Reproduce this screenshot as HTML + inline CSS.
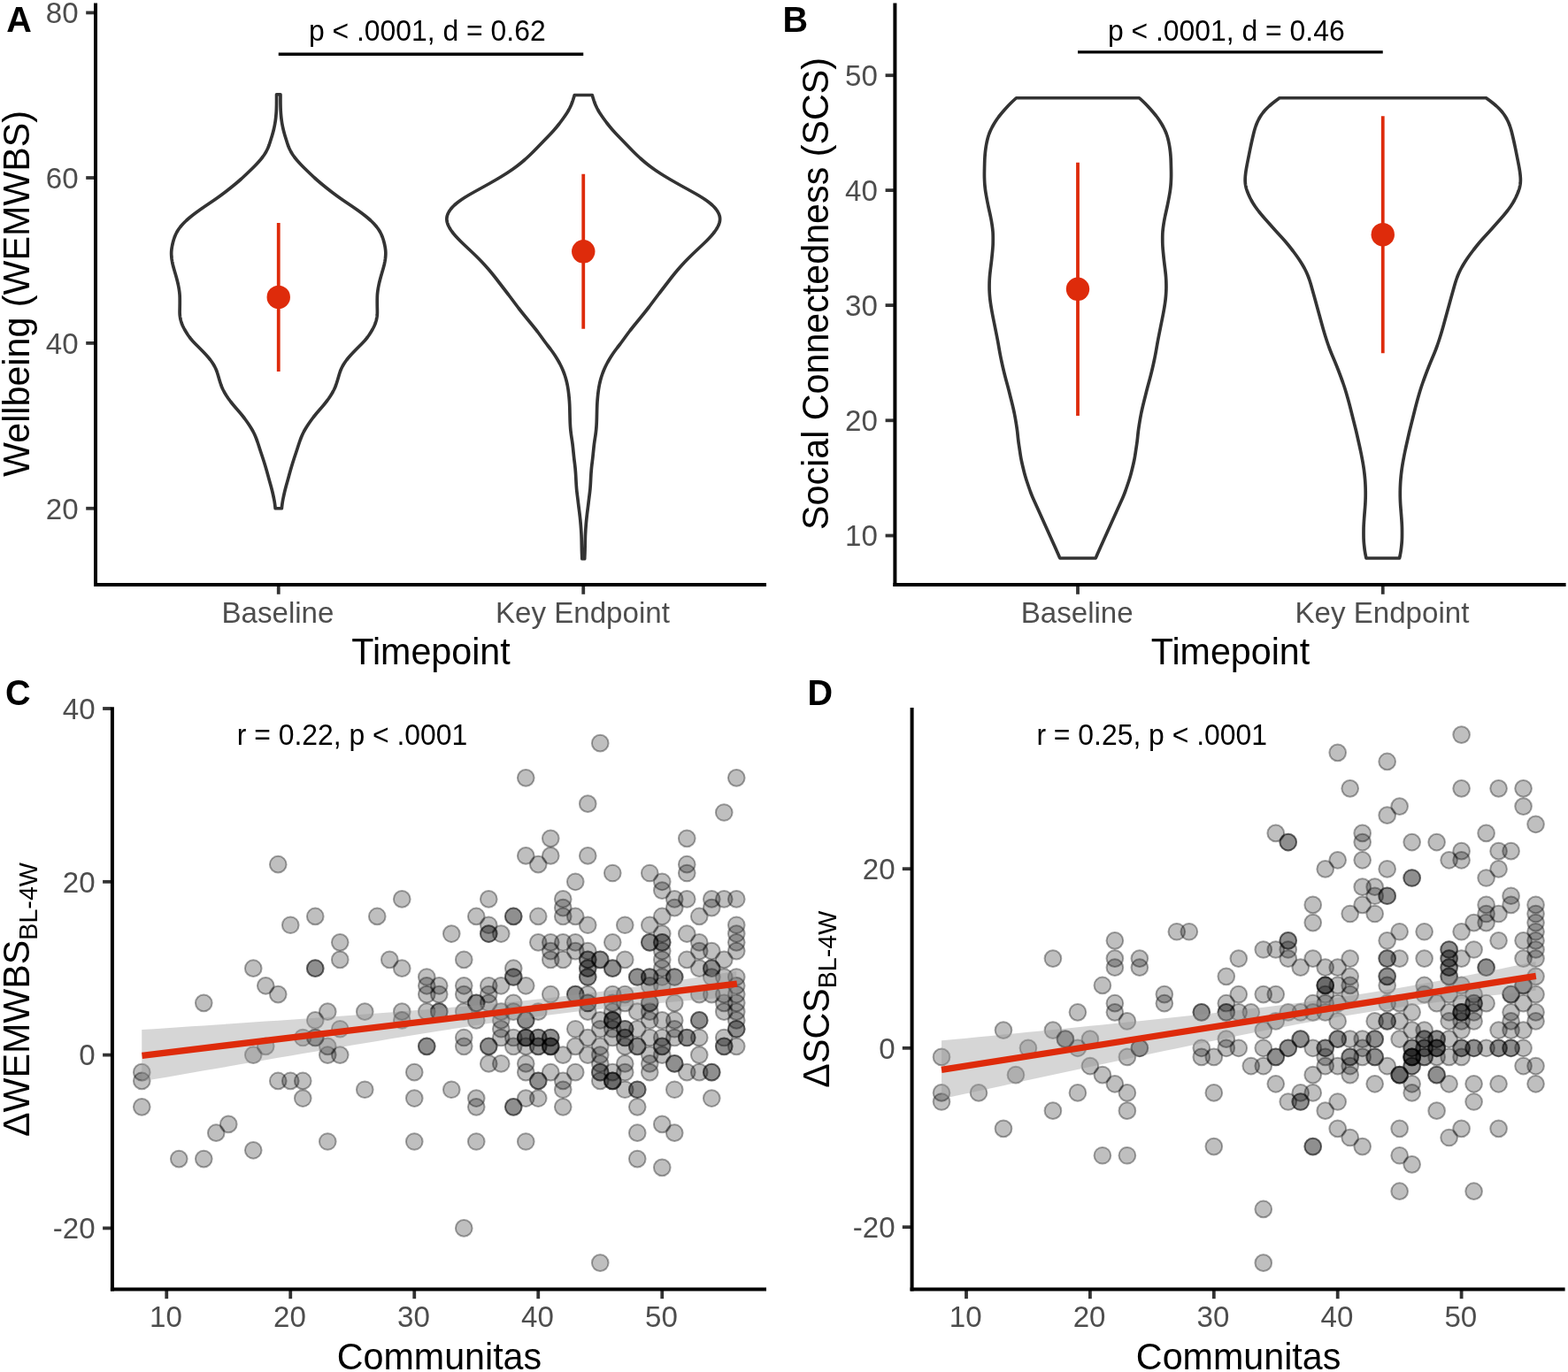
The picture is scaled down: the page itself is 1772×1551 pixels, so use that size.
<!DOCTYPE html>
<html lang="en">
<head>
<meta charset="utf-8">
<title>Figure</title>
<style>html,body{margin:0;padding:0;background:#fff;}svg{display:block;}text{font-family:"Liberation Sans",Arial,Helvetica,sans-serif;}</style>
</head>
<body>
<svg width="1772" height="1551" viewBox="0 0 1772 1551" font-family='"Liberation Sans", Arial, Helvetica, sans-serif' role="img" aria-label="Four-panel figure: wellbeing and social connectedness violin plots, and scatter plots against Communitas">
<rect x="0" y="0" width="1772" height="1551" fill="#ffffff"/>
<g id="panelA">
<path d="M312.55,106.75 L312.55,108.25 L312.55,109.75 L312.55,111.25 L312.56,112.75 L312.55,114.25 L312.54,115.75 L312.53,117.25 L312.50,118.75 L312.47,120.25 L312.43,121.75 L312.38,123.25 L312.32,124.75 L312.24,126.25 L312.14,127.75 L312.02,129.25 L311.89,130.75 L311.75,132.25 L311.59,133.75 L311.40,135.25 L311.20,136.75 L310.97,138.25 L310.72,139.75 L310.44,141.25 L310.15,142.75 L309.84,144.25 L309.50,145.75 L309.14,147.25 L308.76,148.75 L308.36,150.25 L307.94,151.75 L307.51,153.25 L307.05,154.75 L306.58,156.25 L306.11,157.75 L305.64,159.25 L305.17,160.75 L304.68,162.25 L304.17,163.75 L303.61,165.25 L303.01,166.75 L302.35,168.25 L301.63,169.75 L300.85,171.25 L300.00,172.75 L299.07,174.25 L298.07,175.75 L296.98,177.25 L295.83,178.75 L294.62,180.25 L293.35,181.75 L292.03,183.25 L290.67,184.75 L289.25,186.25 L287.80,187.75 L286.31,189.25 L284.78,190.75 L283.24,192.25 L281.69,193.75 L280.12,195.25 L278.55,196.75 L276.97,198.25 L275.37,199.75 L273.75,201.25 L272.08,202.75 L270.38,204.25 L268.64,205.75 L266.85,207.25 L265.04,208.75 L263.20,210.25 L261.35,211.75 L259.47,213.25 L257.57,214.75 L255.65,216.25 L253.69,217.75 L251.70,219.25 L249.67,220.75 L247.61,222.25 L245.51,223.75 L243.37,225.25 L241.20,226.75 L238.99,228.25 L236.76,229.75 L234.54,231.25 L232.32,232.75 L230.13,234.25 L227.97,235.75 L225.83,237.25 L223.74,238.75 L221.68,240.25 L219.68,241.75 L217.73,243.25 L215.85,244.75 L214.03,246.25 L212.29,247.75 L210.62,249.25 L209.05,250.75 L207.56,252.25 L206.16,253.75 L204.85,255.25 L203.63,256.75 L202.49,258.25 L201.46,259.75 L200.52,261.25 L199.67,262.75 L198.91,264.25 L198.22,265.75 L197.60,267.25 L197.04,268.75 L196.53,270.25 L196.07,271.75 L195.65,273.25 L195.27,274.75 L194.93,276.25 L194.61,277.75 L194.33,279.25 L194.09,280.75 L193.89,282.25 L193.75,283.75 L193.67,285.25 L193.66,286.75 L193.70,288.25 L193.79,289.75 L193.93,291.25 L194.10,292.75 L194.32,294.25 L194.57,295.75 L194.86,297.25 L195.19,298.75 L195.56,300.25 L195.95,301.75 L196.36,303.25 L196.78,304.75 L197.22,306.25 L197.65,307.75 L198.09,309.25 L198.53,310.75 L198.96,312.25 L199.37,313.75 L199.78,315.25 L200.17,316.75 L200.55,318.25 L200.91,319.75 L201.25,321.25 L201.56,322.75 L201.85,324.25 L202.12,325.75 L202.36,327.25 L202.59,328.75 L202.78,330.25 L202.94,331.75 L203.07,333.25 L203.15,334.75 L203.20,336.25 L203.23,337.75 L203.24,339.25 L203.25,340.75 L203.24,342.25 L203.24,343.75 L203.22,345.25 L203.20,346.75 L203.17,348.25 L203.14,349.75 L203.11,351.25 L203.10,352.75 L203.13,354.25 L203.21,355.75 L203.36,357.25 L203.57,358.75 L203.85,360.25 L204.20,361.75 L204.61,363.25 L205.08,364.75 L205.62,366.25 L206.23,367.75 L206.92,369.25 L207.67,370.75 L208.47,372.25 L209.33,373.75 L210.22,375.25 L211.15,376.75 L212.12,378.25 L213.14,379.75 L214.23,381.25 L215.39,382.75 L216.63,384.25 L217.95,385.75 L219.35,387.25 L220.80,388.75 L222.29,390.25 L223.80,391.75 L225.30,393.25 L226.79,394.75 L228.26,396.25 L229.71,397.75 L231.13,399.25 L232.52,400.75 L233.88,402.25 L235.19,403.75 L236.45,405.25 L237.64,406.75 L238.75,408.25 L239.80,409.75 L240.78,411.25 L241.69,412.75 L242.53,414.25 L243.30,415.75 L243.99,417.25 L244.61,418.75 L245.16,420.25 L245.66,421.75 L246.13,423.25 L246.57,424.75 L247.01,426.25 L247.45,427.75 L247.89,429.25 L248.35,430.75 L248.82,432.25 L249.31,433.75 L249.83,435.25 L250.40,436.75 L251.01,438.25 L251.68,439.75 L252.42,441.25 L253.21,442.75 L254.05,444.25 L254.94,445.75 L255.87,447.25 L256.86,448.75 L257.88,450.25 L258.95,451.75 L260.07,453.25 L261.22,454.75 L262.41,456.25 L263.63,457.75 L264.89,459.25 L266.17,460.75 L267.47,462.25 L268.78,463.75 L270.08,465.25 L271.36,466.75 L272.61,468.25 L273.82,469.75 L275.00,471.25 L276.15,472.75 L277.27,474.25 L278.36,475.75 L279.42,477.25 L280.46,478.75 L281.46,480.25 L282.44,481.75 L283.39,483.25 L284.30,484.75 L285.17,486.25 L286.00,487.75 L286.77,489.25 L287.50,490.75 L288.17,492.25 L288.81,493.75 L289.41,495.25 L289.97,496.75 L290.52,498.25 L291.04,499.75 L291.55,501.25 L292.05,502.75 L292.53,504.25 L293.02,505.75 L293.50,507.25 L293.99,508.75 L294.48,510.25 L294.98,511.75 L295.48,513.25 L295.98,514.75 L296.48,516.25 L296.97,517.75 L297.46,519.25 L297.94,520.75 L298.42,522.25 L298.89,523.75 L299.35,525.25 L299.81,526.75 L300.25,528.25 L300.69,529.75 L301.12,531.25 L301.55,532.75 L301.97,534.25 L302.38,535.75 L302.79,537.25 L303.20,538.75 L303.60,540.25 L304.02,541.75 L304.43,543.25 L304.85,544.75 L305.28,546.25 L305.70,547.75 L306.12,549.25 L306.52,550.75 L306.92,552.25 L307.30,553.75 L307.67,555.25 L308.03,556.75 L308.37,558.25 L308.71,559.75 L309.03,561.25 L309.35,562.75 L309.65,564.25 L309.93,565.75 L310.19,567.25 L310.43,568.75 L310.64,570.25 L310.83,571.75 L310.99,573.25 L311.15,574.75 L318.35,574.75 L318.51,573.25 L318.67,571.75 L318.86,570.25 L319.07,568.75 L319.31,567.25 L319.57,565.75 L319.85,564.25 L320.15,562.75 L320.47,561.25 L320.79,559.75 L321.13,558.25 L321.47,556.75 L321.83,555.25 L322.20,553.75 L322.58,552.25 L322.98,550.75 L323.38,549.25 L323.80,547.75 L324.22,546.25 L324.65,544.75 L325.07,543.25 L325.48,541.75 L325.90,540.25 L326.30,538.75 L326.71,537.25 L327.12,535.75 L327.53,534.25 L327.95,532.75 L328.38,531.25 L328.81,529.75 L329.25,528.25 L329.69,526.75 L330.15,525.25 L330.61,523.75 L331.08,522.25 L331.56,520.75 L332.04,519.25 L332.53,517.75 L333.02,516.25 L333.52,514.75 L334.02,513.25 L334.52,511.75 L335.02,510.25 L335.51,508.75 L336.00,507.25 L336.48,505.75 L336.97,504.25 L337.45,502.75 L337.95,501.25 L338.46,499.75 L338.98,498.25 L339.53,496.75 L340.09,495.25 L340.69,493.75 L341.33,492.25 L342.00,490.75 L342.73,489.25 L343.50,487.75 L344.33,486.25 L345.20,484.75 L346.11,483.25 L347.06,481.75 L348.04,480.25 L349.04,478.75 L350.08,477.25 L351.14,475.75 L352.23,474.25 L353.35,472.75 L354.50,471.25 L355.68,469.75 L356.89,468.25 L358.14,466.75 L359.42,465.25 L360.72,463.75 L362.03,462.25 L363.33,460.75 L364.61,459.25 L365.87,457.75 L367.09,456.25 L368.28,454.75 L369.43,453.25 L370.55,451.75 L371.62,450.25 L372.64,448.75 L373.63,447.25 L374.56,445.75 L375.45,444.25 L376.29,442.75 L377.08,441.25 L377.82,439.75 L378.49,438.25 L379.10,436.75 L379.67,435.25 L380.19,433.75 L380.68,432.25 L381.15,430.75 L381.61,429.25 L382.05,427.75 L382.49,426.25 L382.93,424.75 L383.37,423.25 L383.84,421.75 L384.34,420.25 L384.89,418.75 L385.51,417.25 L386.20,415.75 L386.97,414.25 L387.81,412.75 L388.72,411.25 L389.70,409.75 L390.75,408.25 L391.86,406.75 L393.05,405.25 L394.31,403.75 L395.62,402.25 L396.98,400.75 L398.37,399.25 L399.79,397.75 L401.24,396.25 L402.71,394.75 L404.20,393.25 L405.70,391.75 L407.21,390.25 L408.70,388.75 L410.15,387.25 L411.55,385.75 L412.87,384.25 L414.11,382.75 L415.27,381.25 L416.36,379.75 L417.38,378.25 L418.35,376.75 L419.28,375.25 L420.17,373.75 L421.03,372.25 L421.83,370.75 L422.58,369.25 L423.27,367.75 L423.88,366.25 L424.42,364.75 L424.89,363.25 L425.30,361.75 L425.65,360.25 L425.93,358.75 L426.14,357.25 L426.29,355.75 L426.37,354.25 L426.40,352.75 L426.39,351.25 L426.36,349.75 L426.33,348.25 L426.30,346.75 L426.28,345.25 L426.26,343.75 L426.26,342.25 L426.25,340.75 L426.26,339.25 L426.27,337.75 L426.30,336.25 L426.35,334.75 L426.43,333.25 L426.56,331.75 L426.72,330.25 L426.91,328.75 L427.14,327.25 L427.38,325.75 L427.65,324.25 L427.94,322.75 L428.25,321.25 L428.59,319.75 L428.95,318.25 L429.33,316.75 L429.72,315.25 L430.13,313.75 L430.54,312.25 L430.97,310.75 L431.41,309.25 L431.85,307.75 L432.28,306.25 L432.72,304.75 L433.14,303.25 L433.55,301.75 L433.94,300.25 L434.31,298.75 L434.64,297.25 L434.93,295.75 L435.18,294.25 L435.40,292.75 L435.57,291.25 L435.71,289.75 L435.80,288.25 L435.84,286.75 L435.83,285.25 L435.75,283.75 L435.61,282.25 L435.41,280.75 L435.17,279.25 L434.89,277.75 L434.57,276.25 L434.23,274.75 L433.85,273.25 L433.43,271.75 L432.97,270.25 L432.46,268.75 L431.90,267.25 L431.28,265.75 L430.59,264.25 L429.83,262.75 L428.98,261.25 L428.04,259.75 L427.01,258.25 L425.87,256.75 L424.65,255.25 L423.34,253.75 L421.94,252.25 L420.45,250.75 L418.88,249.25 L417.21,247.75 L415.47,246.25 L413.65,244.75 L411.77,243.25 L409.82,241.75 L407.82,240.25 L405.76,238.75 L403.67,237.25 L401.53,235.75 L399.37,234.25 L397.18,232.75 L394.96,231.25 L392.74,229.75 L390.51,228.25 L388.30,226.75 L386.13,225.25 L383.99,223.75 L381.89,222.25 L379.83,220.75 L377.80,219.25 L375.81,217.75 L373.85,216.25 L371.93,214.75 L370.03,213.25 L368.15,211.75 L366.30,210.25 L364.46,208.75 L362.65,207.25 L360.86,205.75 L359.12,204.25 L357.42,202.75 L355.75,201.25 L354.13,199.75 L352.53,198.25 L350.95,196.75 L349.38,195.25 L347.81,193.75 L346.26,192.25 L344.72,190.75 L343.19,189.25 L341.70,187.75 L340.25,186.25 L338.83,184.75 L337.47,183.25 L336.15,181.75 L334.88,180.25 L333.67,178.75 L332.52,177.25 L331.43,175.75 L330.43,174.25 L329.50,172.75 L328.65,171.25 L327.87,169.75 L327.15,168.25 L326.49,166.75 L325.89,165.25 L325.33,163.75 L324.82,162.25 L324.33,160.75 L323.86,159.25 L323.39,157.75 L322.92,156.25 L322.45,154.75 L321.99,153.25 L321.56,151.75 L321.14,150.25 L320.74,148.75 L320.36,147.25 L320.00,145.75 L319.66,144.25 L319.35,142.75 L319.06,141.25 L318.78,139.75 L318.53,138.25 L318.30,136.75 L318.10,135.25 L317.91,133.75 L317.75,132.25 L317.61,130.75 L317.48,129.25 L317.36,127.75 L317.26,126.25 L317.18,124.75 L317.12,123.25 L317.07,121.75 L317.03,120.25 L317.00,118.75 L316.97,117.25 L316.96,115.75 L316.95,114.25 L316.94,112.75 L316.95,111.25 L316.95,109.75 L316.95,108.25 L316.95,106.75 Z" fill="#fff" stroke="#333333" stroke-width="3.7" stroke-linejoin="round"/>
<path d="M649.25,107.50 L648.81,109.00 L648.36,110.50 L647.89,112.00 L647.41,113.50 L646.89,115.00 L646.33,116.50 L645.74,118.00 L645.10,119.50 L644.41,121.00 L643.68,122.50 L642.89,124.00 L642.04,125.50 L641.14,127.00 L640.18,128.50 L639.18,130.00 L638.15,131.50 L637.10,133.00 L636.02,134.50 L634.93,136.00 L633.82,137.50 L632.69,139.00 L631.53,140.50 L630.34,142.00 L629.12,143.50 L627.87,145.00 L626.58,146.50 L625.26,148.00 L623.90,149.50 L622.51,151.00 L621.08,152.50 L619.64,154.00 L618.19,155.50 L616.73,157.00 L615.28,158.50 L613.82,160.00 L612.37,161.50 L610.92,163.00 L609.47,164.50 L608.02,166.00 L606.57,167.50 L605.11,169.00 L603.65,170.50 L602.15,172.00 L600.63,173.50 L599.08,175.00 L597.49,176.50 L595.87,178.00 L594.22,179.50 L592.52,181.00 L590.78,182.50 L588.98,184.00 L587.13,185.50 L585.21,187.00 L583.23,188.50 L581.19,190.00 L579.08,191.50 L576.90,193.00 L574.66,194.50 L572.35,196.00 L569.99,197.50 L567.56,199.00 L565.09,200.50 L562.57,202.00 L560.01,203.50 L557.42,205.00 L554.80,206.50 L552.14,208.00 L549.46,209.50 L546.76,211.00 L544.04,212.50 L541.32,214.00 L538.60,215.50 L535.90,217.00 L533.23,218.50 L530.61,220.00 L528.07,221.50 L525.62,223.00 L523.29,224.50 L521.07,226.00 L518.97,227.50 L517.00,229.00 L515.16,230.50 L513.46,232.00 L511.92,233.50 L510.54,235.00 L509.31,236.50 L508.23,238.00 L507.29,239.50 L506.49,241.00 L505.85,242.50 L505.36,244.00 L505.04,245.50 L504.88,247.00 L504.90,248.50 L505.08,250.00 L505.41,251.50 L505.88,253.00 L506.47,254.50 L507.17,256.00 L507.97,257.50 L508.87,259.00 L509.86,260.50 L510.93,262.00 L512.08,263.50 L513.31,265.00 L514.60,266.50 L515.95,268.00 L517.34,269.50 L518.78,271.00 L520.26,272.50 L521.79,274.00 L523.34,275.50 L524.92,277.00 L526.51,278.50 L528.11,280.00 L529.70,281.50 L531.29,283.00 L532.87,284.50 L534.45,286.00 L536.01,287.50 L537.55,289.00 L539.08,290.50 L540.58,292.00 L542.06,293.50 L543.51,295.00 L544.94,296.50 L546.34,298.00 L547.72,299.50 L549.07,301.00 L550.40,302.50 L551.71,304.00 L553.00,305.50 L554.26,307.00 L555.51,308.50 L556.74,310.00 L557.94,311.50 L559.13,313.00 L560.30,314.50 L561.46,316.00 L562.61,317.50 L563.76,319.00 L564.91,320.50 L566.07,322.00 L567.22,323.50 L568.37,325.00 L569.53,326.50 L570.68,328.00 L571.83,329.50 L572.98,331.00 L574.13,332.50 L575.27,334.00 L576.41,335.50 L577.54,337.00 L578.67,338.50 L579.79,340.00 L580.91,341.50 L582.03,343.00 L583.15,344.50 L584.28,346.00 L585.42,347.50 L586.57,349.00 L587.74,350.50 L588.93,352.00 L590.13,353.50 L591.33,355.00 L592.54,356.50 L593.76,358.00 L594.98,359.50 L596.20,361.00 L597.42,362.50 L598.65,364.00 L599.88,365.50 L601.11,367.00 L602.33,368.50 L603.54,370.00 L604.74,371.50 L605.92,373.00 L607.08,374.50 L608.22,376.00 L609.34,377.50 L610.44,379.00 L611.53,380.50 L612.61,382.00 L613.69,383.50 L614.78,385.00 L615.88,386.50 L617.00,388.00 L618.13,389.50 L619.28,391.00 L620.44,392.50 L621.59,394.00 L622.73,395.50 L623.83,397.00 L624.90,398.50 L625.94,400.00 L626.93,401.50 L627.90,403.00 L628.84,404.50 L629.75,406.00 L630.63,407.50 L631.49,409.00 L632.31,410.50 L633.11,412.00 L633.86,413.50 L634.58,415.00 L635.27,416.50 L635.92,418.00 L636.53,419.50 L637.12,421.00 L637.67,422.50 L638.19,424.00 L638.68,425.50 L639.14,427.00 L639.57,428.50 L639.98,430.00 L640.35,431.50 L640.70,433.00 L641.03,434.50 L641.33,436.00 L641.60,437.50 L641.85,439.00 L642.08,440.50 L642.29,442.00 L642.48,443.50 L642.66,445.00 L642.83,446.50 L642.98,448.00 L643.12,449.50 L643.25,451.00 L643.38,452.50 L643.49,454.00 L643.58,455.50 L643.67,457.00 L643.74,458.50 L643.79,460.00 L643.84,461.50 L643.88,463.00 L643.92,464.50 L643.95,466.00 L643.99,467.50 L644.02,469.00 L644.06,470.50 L644.09,472.00 L644.13,473.50 L644.17,475.00 L644.22,476.50 L644.28,478.00 L644.36,479.50 L644.44,481.00 L644.54,482.50 L644.66,484.00 L644.79,485.50 L644.94,487.00 L645.11,488.50 L645.29,490.00 L645.50,491.50 L645.71,493.00 L645.94,494.50 L646.17,496.00 L646.40,497.50 L646.62,499.00 L646.83,500.50 L647.03,502.00 L647.21,503.50 L647.38,505.00 L647.54,506.50 L647.69,508.00 L647.84,509.50 L647.99,511.00 L648.15,512.50 L648.30,514.00 L648.45,515.50 L648.61,517.00 L648.78,518.50 L648.96,520.00 L649.15,521.50 L649.33,523.00 L649.52,524.50 L649.70,526.00 L649.86,527.50 L650.02,529.00 L650.16,530.50 L650.28,532.00 L650.40,533.50 L650.51,535.00 L650.61,536.50 L650.70,538.00 L650.78,539.50 L650.86,541.00 L650.93,542.50 L651.01,544.00 L651.09,545.50 L651.18,547.00 L651.27,548.50 L651.38,550.00 L651.49,551.50 L651.62,553.00 L651.77,554.50 L651.93,556.00 L652.11,557.50 L652.29,559.00 L652.48,560.50 L652.67,562.00 L652.86,563.50 L653.04,565.00 L653.22,566.50 L653.40,568.00 L653.58,569.50 L653.77,571.00 L653.95,572.50 L654.14,574.00 L654.34,575.50 L654.53,577.00 L654.72,578.50 L654.91,580.00 L655.09,581.50 L655.26,583.00 L655.43,584.50 L655.59,586.00 L655.75,587.50 L655.89,589.00 L656.03,590.50 L656.16,592.00 L656.29,593.50 L656.40,595.00 L656.51,596.50 L656.62,598.00 L656.72,599.50 L656.81,601.00 L656.90,602.50 L656.98,604.00 L657.05,605.50 L657.10,607.00 L657.15,608.50 L657.19,610.00 L657.23,611.50 L657.26,613.00 L657.29,614.50 L657.32,616.00 L657.35,617.50 L657.38,619.00 L657.42,620.50 L657.45,622.00 L657.50,623.50 L657.55,625.00 L657.61,626.50 L657.67,628.00 L657.74,629.50 L657.79,631.00 L657.85,631.75 L660.65,631.75 L660.71,631.00 L660.76,629.50 L660.83,628.00 L660.89,626.50 L660.95,625.00 L661.00,623.50 L661.05,622.00 L661.08,620.50 L661.12,619.00 L661.15,617.50 L661.18,616.00 L661.21,614.50 L661.24,613.00 L661.27,611.50 L661.31,610.00 L661.35,608.50 L661.40,607.00 L661.45,605.50 L661.52,604.00 L661.60,602.50 L661.69,601.00 L661.78,599.50 L661.88,598.00 L661.99,596.50 L662.10,595.00 L662.21,593.50 L662.34,592.00 L662.47,590.50 L662.61,589.00 L662.75,587.50 L662.91,586.00 L663.07,584.50 L663.24,583.00 L663.41,581.50 L663.59,580.00 L663.78,578.50 L663.97,577.00 L664.16,575.50 L664.36,574.00 L664.55,572.50 L664.73,571.00 L664.92,569.50 L665.10,568.00 L665.28,566.50 L665.46,565.00 L665.64,563.50 L665.83,562.00 L666.02,560.50 L666.21,559.00 L666.39,557.50 L666.57,556.00 L666.73,554.50 L666.88,553.00 L667.01,551.50 L667.12,550.00 L667.23,548.50 L667.32,547.00 L667.41,545.50 L667.49,544.00 L667.57,542.50 L667.64,541.00 L667.72,539.50 L667.80,538.00 L667.89,536.50 L667.99,535.00 L668.10,533.50 L668.22,532.00 L668.34,530.50 L668.48,529.00 L668.64,527.50 L668.80,526.00 L668.98,524.50 L669.17,523.00 L669.35,521.50 L669.54,520.00 L669.72,518.50 L669.89,517.00 L670.05,515.50 L670.20,514.00 L670.35,512.50 L670.51,511.00 L670.66,509.50 L670.81,508.00 L670.96,506.50 L671.12,505.00 L671.29,503.50 L671.47,502.00 L671.67,500.50 L671.88,499.00 L672.10,497.50 L672.33,496.00 L672.56,494.50 L672.79,493.00 L673.00,491.50 L673.21,490.00 L673.39,488.50 L673.56,487.00 L673.71,485.50 L673.84,484.00 L673.96,482.50 L674.06,481.00 L674.14,479.50 L674.22,478.00 L674.28,476.50 L674.33,475.00 L674.37,473.50 L674.41,472.00 L674.44,470.50 L674.48,469.00 L674.51,467.50 L674.55,466.00 L674.58,464.50 L674.62,463.00 L674.66,461.50 L674.71,460.00 L674.76,458.50 L674.83,457.00 L674.92,455.50 L675.01,454.00 L675.12,452.50 L675.25,451.00 L675.38,449.50 L675.52,448.00 L675.67,446.50 L675.84,445.00 L676.02,443.50 L676.21,442.00 L676.42,440.50 L676.65,439.00 L676.90,437.50 L677.17,436.00 L677.47,434.50 L677.80,433.00 L678.15,431.50 L678.52,430.00 L678.93,428.50 L679.36,427.00 L679.82,425.50 L680.31,424.00 L680.83,422.50 L681.38,421.00 L681.97,419.50 L682.58,418.00 L683.23,416.50 L683.92,415.00 L684.64,413.50 L685.39,412.00 L686.19,410.50 L687.01,409.00 L687.87,407.50 L688.75,406.00 L689.66,404.50 L690.60,403.00 L691.57,401.50 L692.56,400.00 L693.60,398.50 L694.67,397.00 L695.77,395.50 L696.91,394.00 L698.06,392.50 L699.22,391.00 L700.37,389.50 L701.50,388.00 L702.62,386.50 L703.72,385.00 L704.81,383.50 L705.89,382.00 L706.97,380.50 L708.06,379.00 L709.16,377.50 L710.28,376.00 L711.42,374.50 L712.58,373.00 L713.76,371.50 L714.96,370.00 L716.17,368.50 L717.39,367.00 L718.62,365.50 L719.85,364.00 L721.08,362.50 L722.30,361.00 L723.52,359.50 L724.74,358.00 L725.96,356.50 L727.17,355.00 L728.37,353.50 L729.57,352.00 L730.76,350.50 L731.93,349.00 L733.08,347.50 L734.22,346.00 L735.35,344.50 L736.47,343.00 L737.59,341.50 L738.71,340.00 L739.83,338.50 L740.96,337.00 L742.09,335.50 L743.23,334.00 L744.37,332.50 L745.52,331.00 L746.67,329.50 L747.82,328.00 L748.97,326.50 L750.13,325.00 L751.28,323.50 L752.43,322.00 L753.59,320.50 L754.74,319.00 L755.89,317.50 L757.04,316.00 L758.20,314.50 L759.37,313.00 L760.56,311.50 L761.76,310.00 L762.99,308.50 L764.24,307.00 L765.50,305.50 L766.79,304.00 L768.10,302.50 L769.43,301.00 L770.78,299.50 L772.16,298.00 L773.56,296.50 L774.99,295.00 L776.44,293.50 L777.92,292.00 L779.42,290.50 L780.95,289.00 L782.49,287.50 L784.05,286.00 L785.63,284.50 L787.21,283.00 L788.80,281.50 L790.39,280.00 L791.99,278.50 L793.58,277.00 L795.16,275.50 L796.71,274.00 L798.24,272.50 L799.72,271.00 L801.16,269.50 L802.55,268.00 L803.90,266.50 L805.19,265.00 L806.42,263.50 L807.57,262.00 L808.64,260.50 L809.63,259.00 L810.53,257.50 L811.33,256.00 L812.03,254.50 L812.62,253.00 L813.09,251.50 L813.42,250.00 L813.60,248.50 L813.62,247.00 L813.46,245.50 L813.14,244.00 L812.65,242.50 L812.01,241.00 L811.21,239.50 L810.27,238.00 L809.19,236.50 L807.96,235.00 L806.58,233.50 L805.04,232.00 L803.34,230.50 L801.50,229.00 L799.53,227.50 L797.43,226.00 L795.21,224.50 L792.88,223.00 L790.43,221.50 L787.89,220.00 L785.27,218.50 L782.60,217.00 L779.90,215.50 L777.18,214.00 L774.46,212.50 L771.74,211.00 L769.04,209.50 L766.36,208.00 L763.70,206.50 L761.08,205.00 L758.49,203.50 L755.93,202.00 L753.41,200.50 L750.94,199.00 L748.51,197.50 L746.15,196.00 L743.84,194.50 L741.60,193.00 L739.42,191.50 L737.31,190.00 L735.27,188.50 L733.29,187.00 L731.37,185.50 L729.52,184.00 L727.72,182.50 L725.98,181.00 L724.28,179.50 L722.63,178.00 L721.01,176.50 L719.42,175.00 L717.87,173.50 L716.35,172.00 L714.85,170.50 L713.39,169.00 L711.93,167.50 L710.48,166.00 L709.03,164.50 L707.58,163.00 L706.13,161.50 L704.68,160.00 L703.22,158.50 L701.77,157.00 L700.31,155.50 L698.86,154.00 L697.42,152.50 L695.99,151.00 L694.60,149.50 L693.24,148.00 L691.92,146.50 L690.63,145.00 L689.38,143.50 L688.16,142.00 L686.97,140.50 L685.81,139.00 L684.68,137.50 L683.57,136.00 L682.48,134.50 L681.40,133.00 L680.35,131.50 L679.32,130.00 L678.32,128.50 L677.36,127.00 L676.46,125.50 L675.61,124.00 L674.82,122.50 L674.09,121.00 L673.40,119.50 L672.76,118.00 L672.17,116.50 L671.61,115.00 L671.09,113.50 L670.61,112.00 L670.14,110.50 L669.69,109.00 L669.25,107.50 Z" fill="#fff" stroke="#333333" stroke-width="3.7" stroke-linejoin="round"/>
<line x1="314.75" y1="252.00" x2="314.75" y2="420.00" stroke="#DE2B0B" stroke-width="3.8" />
<circle cx="314.75" cy="335.90" r="13.2" fill="#DE2B0B"/>
<line x1="659.25" y1="196.80" x2="659.25" y2="371.80" stroke="#DE2B0B" stroke-width="3.8" />
<circle cx="659.25" cy="284.30" r="13.2" fill="#DE2B0B"/>
<line x1="314.75" y1="61.20" x2="659.25" y2="61.20" stroke="#000" stroke-width="3.4" />
<text x="482.80" y="45.60" font-size="31.9" fill="#000" text-anchor="middle" font-weight="normal" transform="translate(482.80 45.60) scale(1 1.015) translate(-482.80 -45.60)">p &lt; .0001, d = 0.62</text>
<line x1="97.20" y1="14.40" x2="106.50" y2="14.40" stroke="#333333" stroke-width="3.8" />
<text x="88.60" y="26.20" font-size="33.1" fill="#4D4D4D" text-anchor="end" font-weight="normal" transform="translate(88.60 26.20) scale(1 1.02) translate(-88.60 -26.20)">80</text>
<line x1="97.20" y1="201.00" x2="106.50" y2="201.00" stroke="#333333" stroke-width="3.8" />
<text x="88.60" y="212.80" font-size="33.1" fill="#4D4D4D" text-anchor="end" font-weight="normal" transform="translate(88.60 212.80) scale(1 1.02) translate(-88.60 -212.80)">60</text>
<line x1="97.20" y1="387.90" x2="106.50" y2="387.90" stroke="#333333" stroke-width="3.8" />
<text x="88.60" y="399.70" font-size="33.1" fill="#4D4D4D" text-anchor="end" font-weight="normal" transform="translate(88.60 399.70) scale(1 1.02) translate(-88.60 -399.70)">40</text>
<line x1="97.20" y1="574.75" x2="106.50" y2="574.75" stroke="#333333" stroke-width="3.8" />
<text x="88.60" y="586.55" font-size="33.1" fill="#4D4D4D" text-anchor="end" font-weight="normal" transform="translate(88.60 586.55) scale(1 1.02) translate(-88.60 -586.55)">20</text>
<line x1="314.75" y1="662.50" x2="314.75" y2="671.80" stroke="#333333" stroke-width="3.8" />
<text x="313.95" y="703.60" font-size="33.1" fill="#4D4D4D" text-anchor="middle" font-weight="normal" transform="translate(313.95 703.60) scale(1 1.02) translate(-313.95 -703.60)">Baseline</text>
<line x1="659.25" y1="662.50" x2="659.25" y2="671.80" stroke="#333333" stroke-width="3.8" />
<text x="658.45" y="703.60" font-size="33.1" fill="#4D4D4D" text-anchor="middle" font-weight="normal" transform="translate(658.45 703.60) scale(1 1.02) translate(-658.45 -703.60)">Key Endpoint</text>
<line x1="108.00" y1="3.40" x2="108.00" y2="663.00" stroke="#000000" stroke-width="4.0" />
<line x1="106.00" y1="661.00" x2="866.00" y2="661.00" stroke="#000000" stroke-width="4.0" />
<text x="487.00" y="750.80" font-size="41.25" fill="#000" text-anchor="middle" font-weight="normal" transform="translate(487.00 750.80) scale(1 1.045) translate(-487.00 -750.80)">Timepoint</text>
<text x="32.80" y="332.00" font-size="41.25" fill="#000" text-anchor="middle" font-weight="normal" transform="translate(32.80 332.00) rotate(-90) scale(1 1.045) translate(-32.80 -332.00)">Wellbeing (WEMWBS)</text>
<text x="7.30" y="35.60" font-size="39.6" fill="#000" text-anchor="start" font-weight="bold" transform="translate(7.30 35.60) scale(1 1.045) translate(-7.30 -35.60)">A</text>
</g>
<g id="panelB">
<path d="M1148.50,110.75 L1146.84,112.25 L1145.21,113.75 L1143.62,115.25 L1142.09,116.75 L1140.62,118.25 L1139.19,119.75 L1137.81,121.25 L1136.45,122.75 L1135.12,124.25 L1133.81,125.75 L1132.53,127.25 L1131.27,128.75 L1130.05,130.25 L1128.88,131.75 L1127.76,133.25 L1126.69,134.75 L1125.68,136.25 L1124.71,137.75 L1123.78,139.25 L1122.89,140.75 L1122.04,142.25 L1121.22,143.75 L1120.45,145.25 L1119.72,146.75 L1119.04,148.25 L1118.41,149.75 L1117.83,151.25 L1117.30,152.75 L1116.83,154.25 L1116.39,155.75 L1116.00,157.25 L1115.63,158.75 L1115.29,160.25 L1114.98,161.75 L1114.69,163.25 L1114.42,164.75 L1114.18,166.25 L1113.96,167.75 L1113.76,169.25 L1113.57,170.75 L1113.40,172.25 L1113.26,173.75 L1113.13,175.25 L1113.02,176.75 L1112.93,178.25 L1112.85,179.75 L1112.78,181.25 L1112.73,182.75 L1112.68,184.25 L1112.64,185.75 L1112.60,187.25 L1112.56,188.75 L1112.53,190.25 L1112.50,191.75 L1112.47,193.25 L1112.44,194.75 L1112.43,196.25 L1112.43,197.75 L1112.44,199.25 L1112.47,200.75 L1112.52,202.25 L1112.58,203.75 L1112.65,205.25 L1112.73,206.75 L1112.83,208.25 L1112.96,209.75 L1113.10,211.25 L1113.27,212.75 L1113.45,214.25 L1113.65,215.75 L1113.88,217.25 L1114.12,218.75 L1114.38,220.25 L1114.65,221.75 L1114.92,223.25 L1115.21,224.75 L1115.49,226.25 L1115.79,227.75 L1116.08,229.25 L1116.38,230.75 L1116.69,232.25 L1117.01,233.75 L1117.33,235.25 L1117.66,236.75 L1117.99,238.25 L1118.33,239.75 L1118.67,241.25 L1118.99,242.75 L1119.31,244.25 L1119.62,245.75 L1119.92,247.25 L1120.20,248.75 L1120.47,250.25 L1120.72,251.75 L1120.96,253.25 L1121.19,254.75 L1121.39,256.25 L1121.59,257.75 L1121.76,259.25 L1121.91,260.75 L1122.04,262.25 L1122.13,263.75 L1122.18,265.25 L1122.22,266.75 L1122.24,268.25 L1122.24,269.75 L1122.24,271.25 L1122.23,272.75 L1122.21,274.25 L1122.17,275.75 L1122.11,277.25 L1122.02,278.75 L1121.92,280.25 L1121.80,281.75 L1121.66,283.25 L1121.53,284.75 L1121.38,286.25 L1121.24,287.75 L1121.09,289.25 L1120.94,290.75 L1120.78,292.25 L1120.62,293.75 L1120.45,295.25 L1120.27,296.75 L1120.09,298.25 L1119.91,299.75 L1119.72,301.25 L1119.53,302.75 L1119.35,304.25 L1119.17,305.75 L1119.00,307.25 L1118.83,308.75 L1118.67,310.25 L1118.54,311.75 L1118.42,313.25 L1118.32,314.75 L1118.23,316.25 L1118.17,317.75 L1118.12,319.25 L1118.08,320.75 L1118.06,322.25 L1118.05,323.75 L1118.05,325.25 L1118.08,326.75 L1118.12,328.25 L1118.19,329.75 L1118.27,331.25 L1118.37,332.75 L1118.48,334.25 L1118.61,335.75 L1118.76,337.25 L1118.92,338.75 L1119.10,340.25 L1119.30,341.75 L1119.51,343.25 L1119.74,344.75 L1119.97,346.25 L1120.21,347.75 L1120.47,349.25 L1120.73,350.75 L1121.00,352.25 L1121.28,353.75 L1121.56,355.25 L1121.85,356.75 L1122.14,358.25 L1122.44,359.75 L1122.74,361.25 L1123.04,362.75 L1123.35,364.25 L1123.65,365.75 L1123.95,367.25 L1124.25,368.75 L1124.55,370.25 L1124.85,371.75 L1125.15,373.25 L1125.45,374.75 L1125.75,376.25 L1126.05,377.75 L1126.35,379.25 L1126.65,380.75 L1126.94,382.25 L1127.23,383.75 L1127.52,385.25 L1127.80,386.75 L1128.07,388.25 L1128.33,389.75 L1128.59,391.25 L1128.85,392.75 L1129.11,394.25 L1129.37,395.75 L1129.64,397.25 L1129.91,398.75 L1130.19,400.25 L1130.48,401.75 L1130.78,403.25 L1131.08,404.75 L1131.39,406.25 L1131.71,407.75 L1132.03,409.25 L1132.36,410.75 L1132.69,412.25 L1133.03,413.75 L1133.37,415.25 L1133.72,416.75 L1134.07,418.25 L1134.43,419.75 L1134.80,421.25 L1135.17,422.75 L1135.55,424.25 L1135.93,425.75 L1136.32,427.25 L1136.72,428.75 L1137.12,430.25 L1137.53,431.75 L1137.94,433.25 L1138.35,434.75 L1138.76,436.25 L1139.16,437.75 L1139.55,439.25 L1139.94,440.75 L1140.32,442.25 L1140.70,443.75 L1141.07,445.25 L1141.44,446.75 L1141.82,448.25 L1142.19,449.75 L1142.57,451.25 L1142.95,452.75 L1143.32,454.25 L1143.69,455.75 L1144.06,457.25 L1144.42,458.75 L1144.77,460.25 L1145.12,461.75 L1145.46,463.25 L1145.79,464.75 L1146.11,466.25 L1146.42,467.75 L1146.71,469.25 L1146.99,470.75 L1147.27,472.25 L1147.53,473.75 L1147.79,475.25 L1148.04,476.75 L1148.28,478.25 L1148.53,479.75 L1148.76,481.25 L1148.99,482.75 L1149.21,484.25 L1149.42,485.75 L1149.62,487.25 L1149.80,488.75 L1149.96,490.25 L1150.12,491.75 L1150.28,493.25 L1150.43,494.75 L1150.59,496.25 L1150.77,497.75 L1150.95,499.25 L1151.15,500.75 L1151.37,502.25 L1151.59,503.75 L1151.82,505.25 L1152.05,506.75 L1152.27,508.25 L1152.50,509.75 L1152.72,511.25 L1152.94,512.75 L1153.17,514.25 L1153.41,515.75 L1153.67,517.25 L1153.95,518.75 L1154.24,520.25 L1154.56,521.75 L1154.89,523.25 L1155.23,524.75 L1155.58,526.25 L1155.94,527.75 L1156.30,529.25 L1156.66,530.75 L1157.03,532.25 L1157.41,533.75 L1157.80,535.25 L1158.20,536.75 L1158.63,538.25 L1159.07,539.75 L1159.53,541.25 L1160.00,542.75 L1160.49,544.25 L1160.99,545.75 L1161.50,547.25 L1162.00,548.75 L1162.51,550.25 L1163.03,551.75 L1163.55,553.25 L1164.08,554.75 L1164.62,556.25 L1165.19,557.75 L1165.77,559.25 L1166.38,560.75 L1167.01,562.25 L1167.66,563.75 L1168.33,565.25 L1169.00,566.75 L1169.69,568.25 L1170.37,569.75 L1171.05,571.25 L1171.73,572.75 L1172.41,574.25 L1173.09,575.75 L1173.76,577.25 L1174.44,578.75 L1175.11,580.25 L1175.79,581.75 L1176.46,583.25 L1177.14,584.75 L1177.81,586.25 L1178.49,587.75 L1179.16,589.25 L1179.84,590.75 L1180.51,592.25 L1181.19,593.75 L1181.86,595.25 L1182.54,596.75 L1183.21,598.25 L1183.89,599.75 L1184.56,601.25 L1185.24,602.75 L1185.91,604.25 L1186.59,605.75 L1187.26,607.25 L1187.94,608.75 L1188.61,610.25 L1189.29,611.75 L1189.96,613.25 L1190.64,614.75 L1191.31,616.25 L1191.99,617.75 L1192.66,619.25 L1193.33,620.75 L1194.00,622.25 L1194.66,623.75 L1195.32,625.25 L1195.98,626.75 L1196.62,628.25 L1197.25,629.75 L1197.88,631.00 L1238.12,631.00 L1238.75,629.75 L1239.38,628.25 L1240.02,626.75 L1240.68,625.25 L1241.34,623.75 L1242.00,622.25 L1242.67,620.75 L1243.34,619.25 L1244.01,617.75 L1244.69,616.25 L1245.36,614.75 L1246.04,613.25 L1246.71,611.75 L1247.39,610.25 L1248.06,608.75 L1248.74,607.25 L1249.41,605.75 L1250.09,604.25 L1250.76,602.75 L1251.44,601.25 L1252.11,599.75 L1252.79,598.25 L1253.46,596.75 L1254.14,595.25 L1254.81,593.75 L1255.49,592.25 L1256.16,590.75 L1256.84,589.25 L1257.51,587.75 L1258.19,586.25 L1258.86,584.75 L1259.54,583.25 L1260.21,581.75 L1260.89,580.25 L1261.56,578.75 L1262.24,577.25 L1262.91,575.75 L1263.59,574.25 L1264.27,572.75 L1264.95,571.25 L1265.63,569.75 L1266.31,568.25 L1267.00,566.75 L1267.67,565.25 L1268.34,563.75 L1268.99,562.25 L1269.62,560.75 L1270.23,559.25 L1270.81,557.75 L1271.38,556.25 L1271.92,554.75 L1272.45,553.25 L1272.97,551.75 L1273.49,550.25 L1274.00,548.75 L1274.50,547.25 L1275.01,545.75 L1275.51,544.25 L1276.00,542.75 L1276.47,541.25 L1276.93,539.75 L1277.37,538.25 L1277.80,536.75 L1278.20,535.25 L1278.59,533.75 L1278.97,532.25 L1279.34,530.75 L1279.70,529.25 L1280.06,527.75 L1280.42,526.25 L1280.77,524.75 L1281.11,523.25 L1281.44,521.75 L1281.76,520.25 L1282.05,518.75 L1282.33,517.25 L1282.59,515.75 L1282.83,514.25 L1283.06,512.75 L1283.28,511.25 L1283.50,509.75 L1283.73,508.25 L1283.95,506.75 L1284.18,505.25 L1284.41,503.75 L1284.63,502.25 L1284.85,500.75 L1285.05,499.25 L1285.23,497.75 L1285.41,496.25 L1285.57,494.75 L1285.72,493.25 L1285.88,491.75 L1286.04,490.25 L1286.20,488.75 L1286.38,487.25 L1286.58,485.75 L1286.79,484.25 L1287.01,482.75 L1287.24,481.25 L1287.47,479.75 L1287.72,478.25 L1287.96,476.75 L1288.21,475.25 L1288.47,473.75 L1288.73,472.25 L1289.01,470.75 L1289.29,469.25 L1289.58,467.75 L1289.89,466.25 L1290.21,464.75 L1290.54,463.25 L1290.88,461.75 L1291.23,460.25 L1291.58,458.75 L1291.94,457.25 L1292.31,455.75 L1292.68,454.25 L1293.05,452.75 L1293.43,451.25 L1293.81,449.75 L1294.18,448.25 L1294.56,446.75 L1294.93,445.25 L1295.30,443.75 L1295.68,442.25 L1296.06,440.75 L1296.45,439.25 L1296.84,437.75 L1297.24,436.25 L1297.65,434.75 L1298.06,433.25 L1298.47,431.75 L1298.88,430.25 L1299.28,428.75 L1299.68,427.25 L1300.07,425.75 L1300.45,424.25 L1300.83,422.75 L1301.20,421.25 L1301.57,419.75 L1301.93,418.25 L1302.28,416.75 L1302.63,415.25 L1302.97,413.75 L1303.31,412.25 L1303.64,410.75 L1303.97,409.25 L1304.29,407.75 L1304.61,406.25 L1304.92,404.75 L1305.22,403.25 L1305.52,401.75 L1305.81,400.25 L1306.09,398.75 L1306.36,397.25 L1306.63,395.75 L1306.89,394.25 L1307.15,392.75 L1307.41,391.25 L1307.67,389.75 L1307.93,388.25 L1308.20,386.75 L1308.48,385.25 L1308.77,383.75 L1309.06,382.25 L1309.35,380.75 L1309.65,379.25 L1309.95,377.75 L1310.25,376.25 L1310.55,374.75 L1310.85,373.25 L1311.15,371.75 L1311.45,370.25 L1311.75,368.75 L1312.05,367.25 L1312.35,365.75 L1312.65,364.25 L1312.96,362.75 L1313.26,361.25 L1313.56,359.75 L1313.86,358.25 L1314.15,356.75 L1314.44,355.25 L1314.72,353.75 L1315.00,352.25 L1315.27,350.75 L1315.53,349.25 L1315.79,347.75 L1316.03,346.25 L1316.26,344.75 L1316.49,343.25 L1316.70,341.75 L1316.90,340.25 L1317.08,338.75 L1317.24,337.25 L1317.39,335.75 L1317.52,334.25 L1317.63,332.75 L1317.73,331.25 L1317.81,329.75 L1317.88,328.25 L1317.92,326.75 L1317.95,325.25 L1317.95,323.75 L1317.94,322.25 L1317.92,320.75 L1317.88,319.25 L1317.83,317.75 L1317.77,316.25 L1317.68,314.75 L1317.58,313.25 L1317.46,311.75 L1317.33,310.25 L1317.17,308.75 L1317.00,307.25 L1316.83,305.75 L1316.65,304.25 L1316.47,302.75 L1316.28,301.25 L1316.09,299.75 L1315.91,298.25 L1315.73,296.75 L1315.55,295.25 L1315.38,293.75 L1315.22,292.25 L1315.06,290.75 L1314.91,289.25 L1314.76,287.75 L1314.62,286.25 L1314.47,284.75 L1314.34,283.25 L1314.20,281.75 L1314.08,280.25 L1313.98,278.75 L1313.89,277.25 L1313.83,275.75 L1313.79,274.25 L1313.77,272.75 L1313.76,271.25 L1313.76,269.75 L1313.76,268.25 L1313.78,266.75 L1313.82,265.25 L1313.87,263.75 L1313.96,262.25 L1314.09,260.75 L1314.24,259.25 L1314.41,257.75 L1314.61,256.25 L1314.81,254.75 L1315.04,253.25 L1315.28,251.75 L1315.53,250.25 L1315.80,248.75 L1316.08,247.25 L1316.38,245.75 L1316.69,244.25 L1317.01,242.75 L1317.33,241.25 L1317.67,239.75 L1318.01,238.25 L1318.34,236.75 L1318.67,235.25 L1318.99,233.75 L1319.31,232.25 L1319.62,230.75 L1319.92,229.25 L1320.21,227.75 L1320.51,226.25 L1320.79,224.75 L1321.08,223.25 L1321.35,221.75 L1321.62,220.25 L1321.88,218.75 L1322.12,217.25 L1322.35,215.75 L1322.55,214.25 L1322.73,212.75 L1322.90,211.25 L1323.04,209.75 L1323.17,208.25 L1323.27,206.75 L1323.35,205.25 L1323.42,203.75 L1323.48,202.25 L1323.53,200.75 L1323.56,199.25 L1323.57,197.75 L1323.57,196.25 L1323.56,194.75 L1323.53,193.25 L1323.50,191.75 L1323.47,190.25 L1323.44,188.75 L1323.40,187.25 L1323.36,185.75 L1323.32,184.25 L1323.27,182.75 L1323.22,181.25 L1323.15,179.75 L1323.07,178.25 L1322.98,176.75 L1322.87,175.25 L1322.74,173.75 L1322.60,172.25 L1322.43,170.75 L1322.24,169.25 L1322.04,167.75 L1321.82,166.25 L1321.58,164.75 L1321.31,163.25 L1321.02,161.75 L1320.71,160.25 L1320.37,158.75 L1320.00,157.25 L1319.61,155.75 L1319.17,154.25 L1318.70,152.75 L1318.17,151.25 L1317.59,149.75 L1316.96,148.25 L1316.28,146.75 L1315.55,145.25 L1314.78,143.75 L1313.96,142.25 L1313.11,140.75 L1312.22,139.25 L1311.29,137.75 L1310.32,136.25 L1309.31,134.75 L1308.24,133.25 L1307.12,131.75 L1305.95,130.25 L1304.73,128.75 L1303.47,127.25 L1302.19,125.75 L1300.88,124.25 L1299.55,122.75 L1298.19,121.25 L1296.81,119.75 L1295.38,118.25 L1293.91,116.75 L1292.38,115.25 L1290.79,113.75 L1289.16,112.25 L1287.50,110.75 Z" fill="#fff" stroke="#333333" stroke-width="3.7" stroke-linejoin="round"/>
<path d="M1446.00,110.75 L1443.96,112.25 L1441.95,113.75 L1439.99,115.25 L1438.10,116.75 L1436.29,118.25 L1434.56,119.75 L1432.92,121.25 L1431.38,122.75 L1429.95,124.25 L1428.63,125.75 L1427.40,127.25 L1426.27,128.75 L1425.22,130.25 L1424.26,131.75 L1423.36,133.25 L1422.54,134.75 L1421.78,136.25 L1421.07,137.75 L1420.42,139.25 L1419.82,140.75 L1419.26,142.25 L1418.74,143.75 L1418.26,145.25 L1417.82,146.75 L1417.40,148.25 L1417.01,149.75 L1416.64,151.25 L1416.28,152.75 L1415.93,154.25 L1415.58,155.75 L1415.23,157.25 L1414.89,158.75 L1414.55,160.25 L1414.22,161.75 L1413.89,163.25 L1413.57,164.75 L1413.26,166.25 L1412.95,167.75 L1412.64,169.25 L1412.34,170.75 L1412.04,172.25 L1411.74,173.75 L1411.44,175.25 L1411.14,176.75 L1410.84,178.25 L1410.54,179.75 L1410.24,181.25 L1409.94,182.75 L1409.65,184.25 L1409.36,185.75 L1409.07,187.25 L1408.80,188.75 L1408.53,190.25 L1408.28,191.75 L1408.04,193.25 L1407.83,194.75 L1407.64,196.25 L1407.48,197.75 L1407.33,199.25 L1407.23,200.75 L1407.16,202.25 L1407.14,203.75 L1407.18,205.25 L1407.28,206.75 L1407.45,208.25 L1407.69,209.75 L1408.00,211.25 L1408.38,212.75 L1408.83,214.25 L1409.34,215.75 L1409.91,217.25 L1410.51,218.75 L1411.15,220.25 L1411.82,221.75 L1412.52,223.25 L1413.27,224.75 L1414.05,226.25 L1414.89,227.75 L1415.77,229.25 L1416.70,230.75 L1417.67,232.25 L1418.68,233.75 L1419.74,235.25 L1420.84,236.75 L1421.98,238.25 L1423.16,239.75 L1424.37,241.25 L1425.61,242.75 L1426.87,244.25 L1428.17,245.75 L1429.48,247.25 L1430.81,248.75 L1432.15,250.25 L1433.49,251.75 L1434.82,253.25 L1436.15,254.75 L1437.48,256.25 L1438.81,257.75 L1440.14,259.25 L1441.49,260.75 L1442.85,262.25 L1444.23,263.75 L1445.61,265.25 L1447.00,266.75 L1448.37,268.25 L1449.73,269.75 L1451.07,271.25 L1452.37,272.75 L1453.65,274.25 L1454.89,275.75 L1456.12,277.25 L1457.32,278.75 L1458.51,280.25 L1459.68,281.75 L1460.83,283.25 L1461.97,284.75 L1463.10,286.25 L1464.21,287.75 L1465.29,289.25 L1466.36,290.75 L1467.39,292.25 L1468.40,293.75 L1469.38,295.25 L1470.33,296.75 L1471.26,298.25 L1472.15,299.75 L1473.02,301.25 L1473.85,302.75 L1474.65,304.25 L1475.42,305.75 L1476.15,307.25 L1476.84,308.75 L1477.49,310.25 L1478.10,311.75 L1478.68,313.25 L1479.23,314.75 L1479.75,316.25 L1480.25,317.75 L1480.72,319.25 L1481.18,320.75 L1481.62,322.25 L1482.04,323.75 L1482.46,325.25 L1482.88,326.75 L1483.30,328.25 L1483.72,329.75 L1484.14,331.25 L1484.56,332.75 L1484.98,334.25 L1485.40,335.75 L1485.81,337.25 L1486.23,338.75 L1486.64,340.25 L1487.05,341.75 L1487.46,343.25 L1487.87,344.75 L1488.28,346.25 L1488.69,347.75 L1489.11,349.25 L1489.52,350.75 L1489.93,352.25 L1490.34,353.75 L1490.76,355.25 L1491.17,356.75 L1491.58,358.25 L1491.99,359.75 L1492.40,361.25 L1492.81,362.75 L1493.22,364.25 L1493.63,365.75 L1494.04,367.25 L1494.46,368.75 L1494.88,370.25 L1495.30,371.75 L1495.74,373.25 L1496.17,374.75 L1496.62,376.25 L1497.07,377.75 L1497.53,379.25 L1498.00,380.75 L1498.47,382.25 L1498.95,383.75 L1499.44,385.25 L1499.94,386.75 L1500.45,388.25 L1500.97,389.75 L1501.50,391.25 L1502.04,392.75 L1502.59,394.25 L1503.16,395.75 L1503.75,397.25 L1504.34,398.75 L1504.96,400.25 L1505.58,401.75 L1506.22,403.25 L1506.86,404.75 L1507.49,406.25 L1508.12,407.75 L1508.74,409.25 L1509.36,410.75 L1509.97,412.25 L1510.57,413.75 L1511.16,415.25 L1511.75,416.75 L1512.33,418.25 L1512.91,419.75 L1513.48,421.25 L1514.05,422.75 L1514.61,424.25 L1515.17,425.75 L1515.72,427.25 L1516.26,428.75 L1516.80,430.25 L1517.34,431.75 L1517.86,433.25 L1518.38,434.75 L1518.89,436.25 L1519.39,437.75 L1519.87,439.25 L1520.34,440.75 L1520.80,442.25 L1521.25,443.75 L1521.69,445.25 L1522.13,446.75 L1522.56,448.25 L1522.99,449.75 L1523.41,451.25 L1523.82,452.75 L1524.23,454.25 L1524.64,455.75 L1525.04,457.25 L1525.43,458.75 L1525.81,460.25 L1526.19,461.75 L1526.57,463.25 L1526.94,464.75 L1527.32,466.25 L1527.69,467.75 L1528.06,469.25 L1528.44,470.75 L1528.81,472.25 L1529.19,473.75 L1529.56,475.25 L1529.94,476.75 L1530.32,478.25 L1530.69,479.75 L1531.07,481.25 L1531.45,482.75 L1531.82,484.25 L1532.19,485.75 L1532.55,487.25 L1532.91,488.75 L1533.26,490.25 L1533.60,491.75 L1533.94,493.25 L1534.28,494.75 L1534.61,496.25 L1534.95,497.75 L1535.29,499.25 L1535.63,500.75 L1535.97,502.25 L1536.30,503.75 L1536.64,505.25 L1536.96,506.75 L1537.29,508.25 L1537.60,509.75 L1537.91,511.25 L1538.22,512.75 L1538.52,514.25 L1538.81,515.75 L1539.10,517.25 L1539.38,518.75 L1539.66,520.25 L1539.93,521.75 L1540.20,523.25 L1540.45,524.75 L1540.70,526.25 L1540.93,527.75 L1541.16,529.25 L1541.37,530.75 L1541.57,532.25 L1541.75,533.75 L1541.93,535.25 L1542.10,536.75 L1542.25,538.25 L1542.39,539.75 L1542.52,541.25 L1542.65,542.75 L1542.76,544.25 L1542.85,545.75 L1542.93,547.25 L1543.01,548.75 L1543.07,550.25 L1543.12,551.75 L1543.16,553.25 L1543.19,554.75 L1543.21,556.25 L1543.22,557.75 L1543.21,559.25 L1543.20,560.75 L1543.17,562.25 L1543.13,563.75 L1543.08,565.25 L1543.02,566.75 L1542.95,568.25 L1542.87,569.75 L1542.78,571.25 L1542.67,572.75 L1542.56,574.25 L1542.44,575.75 L1542.32,577.25 L1542.20,578.75 L1542.08,580.25 L1541.96,581.75 L1541.85,583.25 L1541.73,584.75 L1541.63,586.25 L1541.52,587.75 L1541.43,589.25 L1541.33,590.75 L1541.25,592.25 L1541.17,593.75 L1541.11,595.25 L1541.06,596.75 L1541.03,598.25 L1541.02,599.75 L1541.01,601.25 L1541.00,602.75 L1541.01,604.25 L1541.02,605.75 L1541.04,607.25 L1541.08,608.75 L1541.14,610.25 L1541.22,611.75 L1541.32,613.25 L1541.45,614.75 L1541.59,616.25 L1541.75,617.75 L1541.92,619.25 L1542.10,620.75 L1542.30,622.25 L1542.53,623.75 L1542.78,625.25 L1543.06,626.75 L1543.36,628.25 L1543.68,629.75 L1544.00,631.00 L1581.50,631.00 L1581.82,629.75 L1582.14,628.25 L1582.44,626.75 L1582.72,625.25 L1582.97,623.75 L1583.20,622.25 L1583.40,620.75 L1583.58,619.25 L1583.75,617.75 L1583.91,616.25 L1584.05,614.75 L1584.18,613.25 L1584.28,611.75 L1584.36,610.25 L1584.42,608.75 L1584.46,607.25 L1584.48,605.75 L1584.49,604.25 L1584.50,602.75 L1584.49,601.25 L1584.48,599.75 L1584.47,598.25 L1584.44,596.75 L1584.39,595.25 L1584.33,593.75 L1584.25,592.25 L1584.17,590.75 L1584.07,589.25 L1583.98,587.75 L1583.87,586.25 L1583.77,584.75 L1583.65,583.25 L1583.54,581.75 L1583.42,580.25 L1583.30,578.75 L1583.18,577.25 L1583.06,575.75 L1582.94,574.25 L1582.83,572.75 L1582.72,571.25 L1582.63,569.75 L1582.55,568.25 L1582.48,566.75 L1582.42,565.25 L1582.37,563.75 L1582.33,562.25 L1582.30,560.75 L1582.29,559.25 L1582.28,557.75 L1582.29,556.25 L1582.31,554.75 L1582.34,553.25 L1582.38,551.75 L1582.43,550.25 L1582.49,548.75 L1582.57,547.25 L1582.65,545.75 L1582.74,544.25 L1582.85,542.75 L1582.98,541.25 L1583.11,539.75 L1583.25,538.25 L1583.40,536.75 L1583.57,535.25 L1583.75,533.75 L1583.93,532.25 L1584.13,530.75 L1584.34,529.25 L1584.57,527.75 L1584.80,526.25 L1585.05,524.75 L1585.30,523.25 L1585.57,521.75 L1585.84,520.25 L1586.12,518.75 L1586.40,517.25 L1586.69,515.75 L1586.98,514.25 L1587.28,512.75 L1587.59,511.25 L1587.90,509.75 L1588.21,508.25 L1588.54,506.75 L1588.86,505.25 L1589.20,503.75 L1589.53,502.25 L1589.87,500.75 L1590.21,499.25 L1590.55,497.75 L1590.89,496.25 L1591.22,494.75 L1591.56,493.25 L1591.90,491.75 L1592.24,490.25 L1592.59,488.75 L1592.95,487.25 L1593.31,485.75 L1593.68,484.25 L1594.05,482.75 L1594.43,481.25 L1594.81,479.75 L1595.18,478.25 L1595.56,476.75 L1595.94,475.25 L1596.31,473.75 L1596.69,472.25 L1597.06,470.75 L1597.44,469.25 L1597.81,467.75 L1598.18,466.25 L1598.56,464.75 L1598.93,463.25 L1599.31,461.75 L1599.69,460.25 L1600.07,458.75 L1600.46,457.25 L1600.86,455.75 L1601.27,454.25 L1601.68,452.75 L1602.09,451.25 L1602.51,449.75 L1602.94,448.25 L1603.37,446.75 L1603.81,445.25 L1604.25,443.75 L1604.70,442.25 L1605.16,440.75 L1605.63,439.25 L1606.11,437.75 L1606.61,436.25 L1607.12,434.75 L1607.64,433.25 L1608.16,431.75 L1608.70,430.25 L1609.24,428.75 L1609.78,427.25 L1610.33,425.75 L1610.89,424.25 L1611.45,422.75 L1612.02,421.25 L1612.59,419.75 L1613.17,418.25 L1613.75,416.75 L1614.34,415.25 L1614.93,413.75 L1615.53,412.25 L1616.14,410.75 L1616.76,409.25 L1617.38,407.75 L1618.01,406.25 L1618.64,404.75 L1619.28,403.25 L1619.92,401.75 L1620.54,400.25 L1621.16,398.75 L1621.75,397.25 L1622.34,395.75 L1622.91,394.25 L1623.46,392.75 L1624.00,391.25 L1624.53,389.75 L1625.05,388.25 L1625.56,386.75 L1626.06,385.25 L1626.55,383.75 L1627.03,382.25 L1627.50,380.75 L1627.97,379.25 L1628.43,377.75 L1628.88,376.25 L1629.33,374.75 L1629.76,373.25 L1630.20,371.75 L1630.62,370.25 L1631.04,368.75 L1631.46,367.25 L1631.87,365.75 L1632.28,364.25 L1632.69,362.75 L1633.10,361.25 L1633.51,359.75 L1633.92,358.25 L1634.33,356.75 L1634.74,355.25 L1635.16,353.75 L1635.57,352.25 L1635.98,350.75 L1636.39,349.25 L1636.81,347.75 L1637.22,346.25 L1637.63,344.75 L1638.04,343.25 L1638.45,341.75 L1638.86,340.25 L1639.27,338.75 L1639.69,337.25 L1640.10,335.75 L1640.52,334.25 L1640.94,332.75 L1641.36,331.25 L1641.78,329.75 L1642.20,328.25 L1642.62,326.75 L1643.04,325.25 L1643.46,323.75 L1643.88,322.25 L1644.32,320.75 L1644.78,319.25 L1645.25,317.75 L1645.75,316.25 L1646.27,314.75 L1646.82,313.25 L1647.40,311.75 L1648.01,310.25 L1648.66,308.75 L1649.35,307.25 L1650.08,305.75 L1650.85,304.25 L1651.65,302.75 L1652.48,301.25 L1653.35,299.75 L1654.24,298.25 L1655.17,296.75 L1656.12,295.25 L1657.10,293.75 L1658.11,292.25 L1659.14,290.75 L1660.21,289.25 L1661.29,287.75 L1662.40,286.25 L1663.53,284.75 L1664.67,283.25 L1665.82,281.75 L1666.99,280.25 L1668.18,278.75 L1669.38,277.25 L1670.61,275.75 L1671.85,274.25 L1673.13,272.75 L1674.43,271.25 L1675.77,269.75 L1677.13,268.25 L1678.50,266.75 L1679.89,265.25 L1681.27,263.75 L1682.65,262.25 L1684.01,260.75 L1685.36,259.25 L1686.69,257.75 L1688.02,256.25 L1689.35,254.75 L1690.68,253.25 L1692.01,251.75 L1693.35,250.25 L1694.69,248.75 L1696.02,247.25 L1697.33,245.75 L1698.63,244.25 L1699.89,242.75 L1701.13,241.25 L1702.34,239.75 L1703.52,238.25 L1704.66,236.75 L1705.76,235.25 L1706.82,233.75 L1707.83,232.25 L1708.80,230.75 L1709.73,229.25 L1710.61,227.75 L1711.45,226.25 L1712.23,224.75 L1712.98,223.25 L1713.68,221.75 L1714.35,220.25 L1714.99,218.75 L1715.59,217.25 L1716.16,215.75 L1716.67,214.25 L1717.12,212.75 L1717.50,211.25 L1717.81,209.75 L1718.05,208.25 L1718.22,206.75 L1718.32,205.25 L1718.36,203.75 L1718.34,202.25 L1718.27,200.75 L1718.17,199.25 L1718.02,197.75 L1717.86,196.25 L1717.67,194.75 L1717.46,193.25 L1717.22,191.75 L1716.97,190.25 L1716.70,188.75 L1716.43,187.25 L1716.14,185.75 L1715.85,184.25 L1715.56,182.75 L1715.26,181.25 L1714.96,179.75 L1714.66,178.25 L1714.36,176.75 L1714.06,175.25 L1713.76,173.75 L1713.46,172.25 L1713.16,170.75 L1712.86,169.25 L1712.55,167.75 L1712.24,166.25 L1711.93,164.75 L1711.61,163.25 L1711.28,161.75 L1710.95,160.25 L1710.61,158.75 L1710.27,157.25 L1709.92,155.75 L1709.57,154.25 L1709.22,152.75 L1708.86,151.25 L1708.49,149.75 L1708.10,148.25 L1707.68,146.75 L1707.24,145.25 L1706.76,143.75 L1706.24,142.25 L1705.68,140.75 L1705.08,139.25 L1704.43,137.75 L1703.72,136.25 L1702.96,134.75 L1702.14,133.25 L1701.24,131.75 L1700.28,130.25 L1699.23,128.75 L1698.10,127.25 L1696.87,125.75 L1695.55,124.25 L1694.12,122.75 L1692.58,121.25 L1690.94,119.75 L1689.21,118.25 L1687.40,116.75 L1685.51,115.25 L1683.55,113.75 L1681.54,112.25 L1679.50,110.75 Z" fill="#fff" stroke="#333333" stroke-width="3.7" stroke-linejoin="round"/>
<line x1="1218.00" y1="183.80" x2="1218.00" y2="470.00" stroke="#DE2B0B" stroke-width="3.8" />
<circle cx="1218.00" cy="326.80" r="13.2" fill="#DE2B0B"/>
<line x1="1562.75" y1="131.30" x2="1562.75" y2="399.30" stroke="#DE2B0B" stroke-width="3.8" />
<circle cx="1562.75" cy="265.20" r="13.2" fill="#DE2B0B"/>
<line x1="1218.00" y1="58.90" x2="1562.75" y2="58.90" stroke="#000" stroke-width="3.4" />
<text x="1385.80" y="45.60" font-size="31.9" fill="#000" text-anchor="middle" font-weight="normal" transform="translate(1385.80 45.60) scale(1 1.015) translate(-1385.80 -45.60)">p &lt; .0001, d = 0.46</text>
<line x1="1000.60" y1="85.20" x2="1009.90" y2="85.20" stroke="#333333" stroke-width="3.8" />
<text x="991.80" y="97.00" font-size="33.1" fill="#4D4D4D" text-anchor="end" font-weight="normal" transform="translate(991.80 97.00) scale(1 1.02) translate(-991.80 -97.00)">50</text>
<line x1="1000.60" y1="215.10" x2="1009.90" y2="215.10" stroke="#333333" stroke-width="3.8" />
<text x="991.80" y="226.90" font-size="33.1" fill="#4D4D4D" text-anchor="end" font-weight="normal" transform="translate(991.80 226.90) scale(1 1.02) translate(-991.80 -226.90)">40</text>
<line x1="1000.60" y1="345.10" x2="1009.90" y2="345.10" stroke="#333333" stroke-width="3.8" />
<text x="991.80" y="356.90" font-size="33.1" fill="#4D4D4D" text-anchor="end" font-weight="normal" transform="translate(991.80 356.90) scale(1 1.02) translate(-991.80 -356.90)">30</text>
<line x1="1000.60" y1="475.30" x2="1009.90" y2="475.30" stroke="#333333" stroke-width="3.8" />
<text x="991.80" y="487.10" font-size="33.1" fill="#4D4D4D" text-anchor="end" font-weight="normal" transform="translate(991.80 487.10) scale(1 1.02) translate(-991.80 -487.10)">20</text>
<line x1="1000.60" y1="605.50" x2="1009.90" y2="605.50" stroke="#333333" stroke-width="3.8" />
<text x="991.80" y="617.30" font-size="33.1" fill="#4D4D4D" text-anchor="end" font-weight="normal" transform="translate(991.80 617.30) scale(1 1.02) translate(-991.80 -617.30)">10</text>
<line x1="1218.00" y1="662.50" x2="1218.00" y2="671.80" stroke="#333333" stroke-width="3.8" />
<text x="1217.20" y="703.60" font-size="33.1" fill="#4D4D4D" text-anchor="middle" font-weight="normal" transform="translate(1217.20 703.60) scale(1 1.02) translate(-1217.20 -703.60)">Baseline</text>
<line x1="1562.75" y1="662.50" x2="1562.75" y2="671.80" stroke="#333333" stroke-width="3.8" />
<text x="1561.95" y="703.60" font-size="33.1" fill="#4D4D4D" text-anchor="middle" font-weight="normal" transform="translate(1561.95 703.60) scale(1 1.02) translate(-1561.95 -703.60)">Key Endpoint</text>
<line x1="1011.40" y1="3.40" x2="1011.40" y2="663.00" stroke="#000000" stroke-width="4.0" />
<line x1="1009.40" y1="661.00" x2="1769.60" y2="661.00" stroke="#000000" stroke-width="4.0" />
<text x="1390.50" y="750.80" font-size="41.25" fill="#000" text-anchor="middle" font-weight="normal" transform="translate(1390.50 750.80) scale(1 1.045) translate(-1390.50 -750.80)">Timepoint</text>
<text x="936.20" y="332.00" font-size="41.25" fill="#000" text-anchor="middle" font-weight="normal" transform="translate(936.20 332.00) rotate(-90) scale(1 1.045) translate(-936.20 -332.00)">Social Connectedness (SCS)</text>
<text x="884.50" y="35.60" font-size="39.6" fill="#000" text-anchor="start" font-weight="bold" transform="translate(884.50 35.60) scale(1 1.045) translate(-884.50 -35.60)">B</text>
</g>
<g id="panelC">
<g fill="#000" fill-opacity="0.25" stroke="#000" stroke-opacity="0.35" stroke-width="2.0">
<circle cx="160.25" cy="1212.18" r="9.35"/>
<circle cx="160.25" cy="1221.97" r="9.35"/>
<circle cx="160.25" cy="1251.34" r="9.35"/>
<circle cx="202.25" cy="1310.08" r="9.35"/>
<circle cx="230.25" cy="1133.86" r="9.35"/>
<circle cx="230.25" cy="1310.08" r="9.35"/>
<circle cx="244.25" cy="1280.71" r="9.35"/>
<circle cx="258.25" cy="1270.92" r="9.35"/>
<circle cx="286.25" cy="1094.70" r="9.35"/>
<circle cx="286.25" cy="1192.60" r="9.35"/>
<circle cx="286.25" cy="1300.29" r="9.35"/>
<circle cx="300.25" cy="1114.28" r="9.35"/>
<circle cx="300.25" cy="1182.81" r="9.35"/>
<circle cx="314.25" cy="977.22" r="9.35"/>
<circle cx="314.25" cy="1124.07" r="9.35"/>
<circle cx="314.25" cy="1221.97" r="9.35"/>
<circle cx="328.25" cy="1045.75" r="9.35"/>
<circle cx="328.25" cy="1221.97" r="9.35"/>
<circle cx="342.25" cy="1173.02" r="9.35"/>
<circle cx="342.25" cy="1221.97" r="9.35"/>
<circle cx="342.25" cy="1241.55" r="9.35"/>
<circle cx="356.25" cy="1035.96" r="9.35"/>
<circle cx="356.25" cy="1094.70" r="9.35"/>
<circle cx="356.25" cy="1094.70" r="9.35"/>
<circle cx="356.25" cy="1153.44" r="9.35"/>
<circle cx="356.25" cy="1173.02" r="9.35"/>
<circle cx="356.25" cy="1173.02" r="9.35"/>
<circle cx="370.25" cy="1143.65" r="9.35"/>
<circle cx="370.25" cy="1182.81" r="9.35"/>
<circle cx="370.25" cy="1192.60" r="9.35"/>
<circle cx="370.25" cy="1290.50" r="9.35"/>
<circle cx="384.25" cy="1065.33" r="9.35"/>
<circle cx="384.25" cy="1084.91" r="9.35"/>
<circle cx="384.25" cy="1163.23" r="9.35"/>
<circle cx="384.25" cy="1192.60" r="9.35"/>
<circle cx="412.25" cy="1143.65" r="9.35"/>
<circle cx="412.25" cy="1231.76" r="9.35"/>
<circle cx="426.25" cy="1035.96" r="9.35"/>
<circle cx="440.25" cy="1084.91" r="9.35"/>
<circle cx="454.25" cy="1016.38" r="9.35"/>
<circle cx="454.25" cy="1094.70" r="9.35"/>
<circle cx="454.25" cy="1143.65" r="9.35"/>
<circle cx="454.25" cy="1153.44" r="9.35"/>
<circle cx="468.25" cy="1212.18" r="9.35"/>
<circle cx="468.25" cy="1241.55" r="9.35"/>
<circle cx="468.25" cy="1290.50" r="9.35"/>
<circle cx="482.25" cy="1104.49" r="9.35"/>
<circle cx="482.25" cy="1114.28" r="9.35"/>
<circle cx="482.25" cy="1124.07" r="9.35"/>
<circle cx="482.25" cy="1143.65" r="9.35"/>
<circle cx="482.25" cy="1182.81" r="9.35"/>
<circle cx="482.25" cy="1182.81" r="9.35"/>
<circle cx="496.25" cy="1114.28" r="9.35"/>
<circle cx="496.25" cy="1124.07" r="9.35"/>
<circle cx="496.25" cy="1143.65" r="9.35"/>
<circle cx="496.25" cy="1143.65" r="9.35"/>
<circle cx="510.25" cy="1055.54" r="9.35"/>
<circle cx="510.25" cy="1231.76" r="9.35"/>
<circle cx="524.25" cy="1084.91" r="9.35"/>
<circle cx="524.25" cy="1114.28" r="9.35"/>
<circle cx="524.25" cy="1124.07" r="9.35"/>
<circle cx="524.25" cy="1143.65" r="9.35"/>
<circle cx="524.25" cy="1173.02" r="9.35"/>
<circle cx="524.25" cy="1182.81" r="9.35"/>
<circle cx="524.25" cy="1388.40" r="9.35"/>
<circle cx="538.25" cy="1035.96" r="9.35"/>
<circle cx="538.25" cy="1133.86" r="9.35"/>
<circle cx="538.25" cy="1133.86" r="9.35"/>
<circle cx="538.25" cy="1153.44" r="9.35"/>
<circle cx="538.25" cy="1241.55" r="9.35"/>
<circle cx="538.25" cy="1251.34" r="9.35"/>
<circle cx="538.25" cy="1290.50" r="9.35"/>
<circle cx="552.25" cy="1016.38" r="9.35"/>
<circle cx="552.25" cy="1045.75" r="9.35"/>
<circle cx="552.25" cy="1055.54" r="9.35"/>
<circle cx="552.25" cy="1055.54" r="9.35"/>
<circle cx="552.25" cy="1114.28" r="9.35"/>
<circle cx="552.25" cy="1124.07" r="9.35"/>
<circle cx="552.25" cy="1133.86" r="9.35"/>
<circle cx="552.25" cy="1182.81" r="9.35"/>
<circle cx="552.25" cy="1182.81" r="9.35"/>
<circle cx="552.25" cy="1202.39" r="9.35"/>
<circle cx="566.25" cy="1055.54" r="9.35"/>
<circle cx="566.25" cy="1114.28" r="9.35"/>
<circle cx="566.25" cy="1143.65" r="9.35"/>
<circle cx="566.25" cy="1153.44" r="9.35"/>
<circle cx="566.25" cy="1163.23" r="9.35"/>
<circle cx="566.25" cy="1173.02" r="9.35"/>
<circle cx="566.25" cy="1202.39" r="9.35"/>
<circle cx="580.25" cy="1035.96" r="9.35"/>
<circle cx="580.25" cy="1035.96" r="9.35"/>
<circle cx="580.25" cy="1094.70" r="9.35"/>
<circle cx="580.25" cy="1104.49" r="9.35"/>
<circle cx="580.25" cy="1104.49" r="9.35"/>
<circle cx="580.25" cy="1133.86" r="9.35"/>
<circle cx="580.25" cy="1143.65" r="9.35"/>
<circle cx="580.25" cy="1173.02" r="9.35"/>
<circle cx="580.25" cy="1182.81" r="9.35"/>
<circle cx="580.25" cy="1251.34" r="9.35"/>
<circle cx="580.25" cy="1251.34" r="9.35"/>
<circle cx="594.25" cy="879.32" r="9.35"/>
<circle cx="594.25" cy="967.43" r="9.35"/>
<circle cx="594.25" cy="1114.28" r="9.35"/>
<circle cx="594.25" cy="1153.44" r="9.35"/>
<circle cx="594.25" cy="1153.44" r="9.35"/>
<circle cx="594.25" cy="1173.02" r="9.35"/>
<circle cx="594.25" cy="1173.02" r="9.35"/>
<circle cx="594.25" cy="1173.02" r="9.35"/>
<circle cx="594.25" cy="1182.81" r="9.35"/>
<circle cx="594.25" cy="1202.39" r="9.35"/>
<circle cx="594.25" cy="1212.18" r="9.35"/>
<circle cx="594.25" cy="1241.55" r="9.35"/>
<circle cx="594.25" cy="1290.50" r="9.35"/>
<circle cx="608.25" cy="977.22" r="9.35"/>
<circle cx="608.25" cy="1035.96" r="9.35"/>
<circle cx="608.25" cy="1065.33" r="9.35"/>
<circle cx="608.25" cy="1143.65" r="9.35"/>
<circle cx="608.25" cy="1173.02" r="9.35"/>
<circle cx="608.25" cy="1173.02" r="9.35"/>
<circle cx="608.25" cy="1182.81" r="9.35"/>
<circle cx="608.25" cy="1182.81" r="9.35"/>
<circle cx="608.25" cy="1221.97" r="9.35"/>
<circle cx="608.25" cy="1221.97" r="9.35"/>
<circle cx="608.25" cy="1241.55" r="9.35"/>
<circle cx="622.25" cy="947.85" r="9.35"/>
<circle cx="622.25" cy="967.43" r="9.35"/>
<circle cx="622.25" cy="1065.33" r="9.35"/>
<circle cx="622.25" cy="1075.12" r="9.35"/>
<circle cx="622.25" cy="1084.91" r="9.35"/>
<circle cx="622.25" cy="1124.07" r="9.35"/>
<circle cx="622.25" cy="1173.02" r="9.35"/>
<circle cx="622.25" cy="1173.02" r="9.35"/>
<circle cx="622.25" cy="1182.81" r="9.35"/>
<circle cx="622.25" cy="1182.81" r="9.35"/>
<circle cx="622.25" cy="1182.81" r="9.35"/>
<circle cx="622.25" cy="1212.18" r="9.35"/>
<circle cx="636.25" cy="1016.38" r="9.35"/>
<circle cx="636.25" cy="1026.17" r="9.35"/>
<circle cx="636.25" cy="1035.96" r="9.35"/>
<circle cx="636.25" cy="1065.33" r="9.35"/>
<circle cx="636.25" cy="1084.91" r="9.35"/>
<circle cx="636.25" cy="1192.60" r="9.35"/>
<circle cx="636.25" cy="1221.97" r="9.35"/>
<circle cx="636.25" cy="1231.76" r="9.35"/>
<circle cx="636.25" cy="1251.34" r="9.35"/>
<circle cx="650.25" cy="996.80" r="9.35"/>
<circle cx="650.25" cy="1035.96" r="9.35"/>
<circle cx="650.25" cy="1065.33" r="9.35"/>
<circle cx="650.25" cy="1075.12" r="9.35"/>
<circle cx="650.25" cy="1124.07" r="9.35"/>
<circle cx="650.25" cy="1124.07" r="9.35"/>
<circle cx="650.25" cy="1163.23" r="9.35"/>
<circle cx="650.25" cy="1182.81" r="9.35"/>
<circle cx="650.25" cy="1212.18" r="9.35"/>
<circle cx="664.25" cy="908.69" r="9.35"/>
<circle cx="664.25" cy="967.43" r="9.35"/>
<circle cx="664.25" cy="1045.75" r="9.35"/>
<circle cx="664.25" cy="1075.12" r="9.35"/>
<circle cx="664.25" cy="1084.91" r="9.35"/>
<circle cx="664.25" cy="1084.91" r="9.35"/>
<circle cx="664.25" cy="1094.70" r="9.35"/>
<circle cx="664.25" cy="1094.70" r="9.35"/>
<circle cx="664.25" cy="1104.49" r="9.35"/>
<circle cx="664.25" cy="1104.49" r="9.35"/>
<circle cx="664.25" cy="1124.07" r="9.35"/>
<circle cx="664.25" cy="1133.86" r="9.35"/>
<circle cx="664.25" cy="1133.86" r="9.35"/>
<circle cx="664.25" cy="1143.65" r="9.35"/>
<circle cx="664.25" cy="1173.02" r="9.35"/>
<circle cx="664.25" cy="1192.60" r="9.35"/>
<circle cx="678.25" cy="840.16" r="9.35"/>
<circle cx="678.25" cy="1084.91" r="9.35"/>
<circle cx="678.25" cy="1084.91" r="9.35"/>
<circle cx="678.25" cy="1153.44" r="9.35"/>
<circle cx="678.25" cy="1163.23" r="9.35"/>
<circle cx="678.25" cy="1182.81" r="9.35"/>
<circle cx="678.25" cy="1192.60" r="9.35"/>
<circle cx="678.25" cy="1202.39" r="9.35"/>
<circle cx="678.25" cy="1212.18" r="9.35"/>
<circle cx="678.25" cy="1212.18" r="9.35"/>
<circle cx="678.25" cy="1221.97" r="9.35"/>
<circle cx="678.25" cy="1427.56" r="9.35"/>
<circle cx="692.25" cy="987.01" r="9.35"/>
<circle cx="692.25" cy="1065.33" r="9.35"/>
<circle cx="692.25" cy="1094.70" r="9.35"/>
<circle cx="692.25" cy="1094.70" r="9.35"/>
<circle cx="692.25" cy="1124.07" r="9.35"/>
<circle cx="692.25" cy="1133.86" r="9.35"/>
<circle cx="692.25" cy="1143.65" r="9.35"/>
<circle cx="692.25" cy="1153.44" r="9.35"/>
<circle cx="692.25" cy="1153.44" r="9.35"/>
<circle cx="692.25" cy="1153.44" r="9.35"/>
<circle cx="692.25" cy="1163.23" r="9.35"/>
<circle cx="692.25" cy="1173.02" r="9.35"/>
<circle cx="692.25" cy="1212.18" r="9.35"/>
<circle cx="692.25" cy="1221.97" r="9.35"/>
<circle cx="692.25" cy="1221.97" r="9.35"/>
<circle cx="692.25" cy="1221.97" r="9.35"/>
<circle cx="706.25" cy="1045.75" r="9.35"/>
<circle cx="706.25" cy="1084.91" r="9.35"/>
<circle cx="706.25" cy="1124.07" r="9.35"/>
<circle cx="706.25" cy="1133.86" r="9.35"/>
<circle cx="706.25" cy="1163.23" r="9.35"/>
<circle cx="706.25" cy="1163.23" r="9.35"/>
<circle cx="706.25" cy="1173.02" r="9.35"/>
<circle cx="706.25" cy="1173.02" r="9.35"/>
<circle cx="706.25" cy="1182.81" r="9.35"/>
<circle cx="706.25" cy="1202.39" r="9.35"/>
<circle cx="706.25" cy="1212.18" r="9.35"/>
<circle cx="706.25" cy="1231.76" r="9.35"/>
<circle cx="720.25" cy="1104.49" r="9.35"/>
<circle cx="720.25" cy="1104.49" r="9.35"/>
<circle cx="720.25" cy="1143.65" r="9.35"/>
<circle cx="720.25" cy="1163.23" r="9.35"/>
<circle cx="720.25" cy="1182.81" r="9.35"/>
<circle cx="720.25" cy="1182.81" r="9.35"/>
<circle cx="720.25" cy="1231.76" r="9.35"/>
<circle cx="720.25" cy="1231.76" r="9.35"/>
<circle cx="720.25" cy="1251.34" r="9.35"/>
<circle cx="720.25" cy="1280.71" r="9.35"/>
<circle cx="720.25" cy="1310.08" r="9.35"/>
<circle cx="734.25" cy="987.01" r="9.35"/>
<circle cx="734.25" cy="1045.75" r="9.35"/>
<circle cx="734.25" cy="1065.33" r="9.35"/>
<circle cx="734.25" cy="1065.33" r="9.35"/>
<circle cx="734.25" cy="1104.49" r="9.35"/>
<circle cx="734.25" cy="1104.49" r="9.35"/>
<circle cx="734.25" cy="1114.28" r="9.35"/>
<circle cx="734.25" cy="1133.86" r="9.35"/>
<circle cx="734.25" cy="1133.86" r="9.35"/>
<circle cx="734.25" cy="1143.65" r="9.35"/>
<circle cx="734.25" cy="1153.44" r="9.35"/>
<circle cx="734.25" cy="1173.02" r="9.35"/>
<circle cx="734.25" cy="1192.60" r="9.35"/>
<circle cx="734.25" cy="1202.39" r="9.35"/>
<circle cx="734.25" cy="1212.18" r="9.35"/>
<circle cx="748.25" cy="996.80" r="9.35"/>
<circle cx="748.25" cy="1006.59" r="9.35"/>
<circle cx="748.25" cy="1035.96" r="9.35"/>
<circle cx="748.25" cy="1055.54" r="9.35"/>
<circle cx="748.25" cy="1065.33" r="9.35"/>
<circle cx="748.25" cy="1065.33" r="9.35"/>
<circle cx="748.25" cy="1075.12" r="9.35"/>
<circle cx="748.25" cy="1084.91" r="9.35"/>
<circle cx="748.25" cy="1094.70" r="9.35"/>
<circle cx="748.25" cy="1104.49" r="9.35"/>
<circle cx="748.25" cy="1114.28" r="9.35"/>
<circle cx="748.25" cy="1153.44" r="9.35"/>
<circle cx="748.25" cy="1173.02" r="9.35"/>
<circle cx="748.25" cy="1182.81" r="9.35"/>
<circle cx="748.25" cy="1182.81" r="9.35"/>
<circle cx="748.25" cy="1192.60" r="9.35"/>
<circle cx="748.25" cy="1270.92" r="9.35"/>
<circle cx="748.25" cy="1319.87" r="9.35"/>
<circle cx="762.25" cy="1016.38" r="9.35"/>
<circle cx="762.25" cy="1026.17" r="9.35"/>
<circle cx="762.25" cy="1104.49" r="9.35"/>
<circle cx="762.25" cy="1104.49" r="9.35"/>
<circle cx="762.25" cy="1133.86" r="9.35"/>
<circle cx="762.25" cy="1153.44" r="9.35"/>
<circle cx="762.25" cy="1163.23" r="9.35"/>
<circle cx="762.25" cy="1173.02" r="9.35"/>
<circle cx="762.25" cy="1202.39" r="9.35"/>
<circle cx="762.25" cy="1202.39" r="9.35"/>
<circle cx="762.25" cy="1231.76" r="9.35"/>
<circle cx="762.25" cy="1280.71" r="9.35"/>
<circle cx="776.25" cy="947.85" r="9.35"/>
<circle cx="776.25" cy="977.22" r="9.35"/>
<circle cx="776.25" cy="987.01" r="9.35"/>
<circle cx="776.25" cy="1016.38" r="9.35"/>
<circle cx="776.25" cy="1055.54" r="9.35"/>
<circle cx="776.25" cy="1084.91" r="9.35"/>
<circle cx="776.25" cy="1173.02" r="9.35"/>
<circle cx="776.25" cy="1173.02" r="9.35"/>
<circle cx="776.25" cy="1212.18" r="9.35"/>
<circle cx="790.25" cy="1035.96" r="9.35"/>
<circle cx="790.25" cy="1065.33" r="9.35"/>
<circle cx="790.25" cy="1075.12" r="9.35"/>
<circle cx="790.25" cy="1094.70" r="9.35"/>
<circle cx="790.25" cy="1124.07" r="9.35"/>
<circle cx="790.25" cy="1153.44" r="9.35"/>
<circle cx="790.25" cy="1153.44" r="9.35"/>
<circle cx="790.25" cy="1173.02" r="9.35"/>
<circle cx="790.25" cy="1192.60" r="9.35"/>
<circle cx="790.25" cy="1212.18" r="9.35"/>
<circle cx="804.25" cy="1016.38" r="9.35"/>
<circle cx="804.25" cy="1026.17" r="9.35"/>
<circle cx="804.25" cy="1075.12" r="9.35"/>
<circle cx="804.25" cy="1094.70" r="9.35"/>
<circle cx="804.25" cy="1094.70" r="9.35"/>
<circle cx="804.25" cy="1104.49" r="9.35"/>
<circle cx="804.25" cy="1124.07" r="9.35"/>
<circle cx="804.25" cy="1212.18" r="9.35"/>
<circle cx="804.25" cy="1212.18" r="9.35"/>
<circle cx="804.25" cy="1241.55" r="9.35"/>
<circle cx="818.25" cy="918.48" r="9.35"/>
<circle cx="818.25" cy="1016.38" r="9.35"/>
<circle cx="818.25" cy="1084.91" r="9.35"/>
<circle cx="818.25" cy="1104.49" r="9.35"/>
<circle cx="818.25" cy="1124.07" r="9.35"/>
<circle cx="818.25" cy="1133.86" r="9.35"/>
<circle cx="818.25" cy="1143.65" r="9.35"/>
<circle cx="818.25" cy="1173.02" r="9.35"/>
<circle cx="818.25" cy="1182.81" r="9.35"/>
<circle cx="818.25" cy="1182.81" r="9.35"/>
<circle cx="832.25" cy="879.32" r="9.35"/>
<circle cx="832.25" cy="1016.38" r="9.35"/>
<circle cx="832.25" cy="1045.75" r="9.35"/>
<circle cx="832.25" cy="1055.54" r="9.35"/>
<circle cx="832.25" cy="1065.33" r="9.35"/>
<circle cx="832.25" cy="1075.12" r="9.35"/>
<circle cx="832.25" cy="1104.49" r="9.35"/>
<circle cx="832.25" cy="1114.28" r="9.35"/>
<circle cx="832.25" cy="1124.07" r="9.35"/>
<circle cx="832.25" cy="1133.86" r="9.35"/>
<circle cx="832.25" cy="1143.65" r="9.35"/>
<circle cx="832.25" cy="1153.44" r="9.35"/>
<circle cx="832.25" cy="1163.23" r="9.35"/>
<circle cx="832.25" cy="1163.23" r="9.35"/>
<circle cx="832.25" cy="1182.81" r="9.35"/>
</g>
<path d="M160.25,1164.11 L174.25,1163.17 L188.25,1162.24 L202.25,1161.30 L216.25,1160.36 L230.25,1159.41 L244.25,1158.46 L258.25,1157.51 L272.25,1156.55 L286.25,1155.59 L300.25,1154.62 L314.25,1153.65 L328.25,1152.67 L342.25,1151.68 L356.25,1150.69 L370.25,1149.68 L384.25,1148.67 L398.25,1147.65 L412.25,1146.61 L426.25,1145.57 L440.25,1144.50 L454.25,1143.42 L468.25,1142.32 L482.25,1141.20 L496.25,1140.05 L510.25,1138.87 L524.25,1137.66 L538.25,1136.42 L552.25,1135.13 L566.25,1133.80 L580.25,1132.42 L594.25,1130.98 L608.25,1129.49 L622.25,1127.93 L636.25,1126.31 L650.25,1124.62 L664.25,1122.87 L678.25,1121.05 L692.25,1119.16 L706.25,1117.22 L720.25,1115.23 L734.25,1113.18 L748.25,1111.09 L762.25,1108.96 L776.25,1106.79 L790.25,1104.59 L804.25,1102.36 L818.25,1100.10 L832.25,1097.83 L832.25,1126.73 L818.25,1127.83 L804.25,1128.95 L790.25,1130.10 L776.25,1131.28 L762.25,1132.49 L748.25,1133.73 L734.25,1135.02 L720.25,1136.35 L706.25,1137.73 L692.25,1139.16 L678.25,1140.66 L664.25,1142.22 L650.25,1143.84 L636.25,1145.53 L622.25,1147.28 L608.25,1149.10 L594.25,1150.98 L580.25,1152.93 L566.25,1154.92 L552.25,1156.97 L538.25,1159.06 L524.25,1161.19 L510.25,1163.36 L496.25,1165.56 L482.25,1167.79 L468.25,1170.04 L454.25,1172.32 L440.25,1174.62 L426.25,1176.93 L412.25,1179.26 L398.25,1181.60 L384.25,1183.95 L370.25,1186.32 L356.25,1188.69 L342.25,1191.08 L328.25,1193.47 L314.25,1195.87 L300.25,1198.27 L286.25,1200.68 L272.25,1203.09 L258.25,1205.51 L244.25,1207.94 L230.25,1210.37 L216.25,1212.80 L202.25,1215.23 L188.25,1217.67 L174.25,1220.11 L160.25,1222.55 Z" fill="#999999" fill-opacity="0.4" stroke="none"/>
<line x1="160.50" y1="1193.30" x2="832.90" y2="1112.20" stroke="#DE2B0B" stroke-width="7.3" />
<text x="267.70" y="841.60" font-size="31.9" fill="#000" text-anchor="start" font-weight="normal" transform="translate(267.70 841.60) scale(1 1.015) translate(-267.70 -841.60)">r = 0.22, p &lt; .0001</text>
<line x1="116.10" y1="801.00" x2="125.40" y2="801.00" stroke="#333333" stroke-width="3.8" />
<text x="107.60" y="812.80" font-size="33.1" fill="#4D4D4D" text-anchor="end" font-weight="normal" transform="translate(107.60 812.80) scale(1 1.02) translate(-107.60 -812.80)">40</text>
<line x1="116.10" y1="996.80" x2="125.40" y2="996.80" stroke="#333333" stroke-width="3.8" />
<text x="107.60" y="1008.60" font-size="33.1" fill="#4D4D4D" text-anchor="end" font-weight="normal" transform="translate(107.60 1008.60) scale(1 1.02) translate(-107.60 -1008.60)">20</text>
<line x1="116.10" y1="1192.60" x2="125.40" y2="1192.60" stroke="#333333" stroke-width="3.8" />
<text x="107.60" y="1204.40" font-size="33.1" fill="#4D4D4D" text-anchor="end" font-weight="normal" transform="translate(107.60 1204.40) scale(1 1.02) translate(-107.60 -1204.40)">0</text>
<line x1="116.10" y1="1388.40" x2="125.40" y2="1388.40" stroke="#333333" stroke-width="3.8" />
<text x="107.60" y="1400.20" font-size="33.1" fill="#4D4D4D" text-anchor="end" font-weight="normal" transform="translate(107.60 1400.20) scale(1 1.02) translate(-107.60 -1400.20)">-20</text>
<line x1="188.25" y1="1458.90" x2="188.25" y2="1468.20" stroke="#333333" stroke-width="3.8" />
<text x="187.45" y="1500.20" font-size="33.1" fill="#4D4D4D" text-anchor="middle" font-weight="normal" transform="translate(187.45 1500.20) scale(1 1.02) translate(-187.45 -1500.20)">10</text>
<line x1="328.25" y1="1458.90" x2="328.25" y2="1468.20" stroke="#333333" stroke-width="3.8" />
<text x="327.45" y="1500.20" font-size="33.1" fill="#4D4D4D" text-anchor="middle" font-weight="normal" transform="translate(327.45 1500.20) scale(1 1.02) translate(-327.45 -1500.20)">20</text>
<line x1="468.25" y1="1458.90" x2="468.25" y2="1468.20" stroke="#333333" stroke-width="3.8" />
<text x="467.45" y="1500.20" font-size="33.1" fill="#4D4D4D" text-anchor="middle" font-weight="normal" transform="translate(467.45 1500.20) scale(1 1.02) translate(-467.45 -1500.20)">30</text>
<line x1="608.25" y1="1458.90" x2="608.25" y2="1468.20" stroke="#333333" stroke-width="3.8" />
<text x="607.45" y="1500.20" font-size="33.1" fill="#4D4D4D" text-anchor="middle" font-weight="normal" transform="translate(607.45 1500.20) scale(1 1.02) translate(-607.45 -1500.20)">40</text>
<line x1="748.25" y1="1458.90" x2="748.25" y2="1468.20" stroke="#333333" stroke-width="3.8" />
<text x="747.45" y="1500.20" font-size="33.1" fill="#4D4D4D" text-anchor="middle" font-weight="normal" transform="translate(747.45 1500.20) scale(1 1.02) translate(-747.45 -1500.20)">50</text>
<line x1="126.90" y1="799.20" x2="126.90" y2="1459.40" stroke="#000000" stroke-width="4.0" />
<line x1="124.90" y1="1457.40" x2="866.00" y2="1457.40" stroke="#000000" stroke-width="4.0" />
<text x="496.45" y="1548.00" font-size="41.25" fill="#000" text-anchor="middle" font-weight="normal" transform="translate(496.45 1548.00) scale(1 1.045) translate(-496.45 -1548.00)">Communitas</text>
<text x="33.5" y="1130.0" font-size="41.25" fill="#000" text-anchor="middle"  transform="translate(33.50 1130.00) rotate(-90) scale(1 1.045) translate(-33.50 -1130.00)">ΔWEMWBS<tspan font-size="28.7" dy="8">BL-4W</tspan></text>
<text x="6.00" y="796.60" font-size="39.6" fill="#000" text-anchor="start" font-weight="bold" transform="translate(6.00 796.60) scale(1 1.045) translate(-6.00 -796.60)">C</text>
</g>
<g id="panelD">
<g fill="#000" fill-opacity="0.25" stroke="#000" stroke-opacity="0.35" stroke-width="2.0">
<circle cx="1064.02" cy="1194.92" r="9.35"/>
<circle cx="1064.02" cy="1235.40" r="9.35"/>
<circle cx="1064.02" cy="1245.52" r="9.35"/>
<circle cx="1105.99" cy="1235.40" r="9.35"/>
<circle cx="1133.97" cy="1164.56" r="9.35"/>
<circle cx="1133.97" cy="1275.88" r="9.35"/>
<circle cx="1147.96" cy="1215.16" r="9.35"/>
<circle cx="1161.95" cy="1184.80" r="9.35"/>
<circle cx="1189.93" cy="1083.60" r="9.35"/>
<circle cx="1189.93" cy="1164.56" r="9.35"/>
<circle cx="1189.93" cy="1255.64" r="9.35"/>
<circle cx="1203.92" cy="1174.68" r="9.35"/>
<circle cx="1203.92" cy="1174.68" r="9.35"/>
<circle cx="1217.91" cy="1144.32" r="9.35"/>
<circle cx="1217.91" cy="1184.80" r="9.35"/>
<circle cx="1217.91" cy="1235.40" r="9.35"/>
<circle cx="1231.90" cy="1174.68" r="9.35"/>
<circle cx="1231.90" cy="1205.04" r="9.35"/>
<circle cx="1245.89" cy="1113.96" r="9.35"/>
<circle cx="1245.89" cy="1215.16" r="9.35"/>
<circle cx="1245.89" cy="1306.24" r="9.35"/>
<circle cx="1259.88" cy="1063.36" r="9.35"/>
<circle cx="1259.88" cy="1083.60" r="9.35"/>
<circle cx="1259.88" cy="1093.72" r="9.35"/>
<circle cx="1259.88" cy="1134.20" r="9.35"/>
<circle cx="1259.88" cy="1144.32" r="9.35"/>
<circle cx="1259.88" cy="1225.28" r="9.35"/>
<circle cx="1273.87" cy="1154.44" r="9.35"/>
<circle cx="1273.87" cy="1194.92" r="9.35"/>
<circle cx="1273.87" cy="1235.40" r="9.35"/>
<circle cx="1273.87" cy="1255.64" r="9.35"/>
<circle cx="1273.87" cy="1306.24" r="9.35"/>
<circle cx="1287.86" cy="1083.60" r="9.35"/>
<circle cx="1287.86" cy="1093.72" r="9.35"/>
<circle cx="1287.86" cy="1184.80" r="9.35"/>
<circle cx="1287.86" cy="1184.80" r="9.35"/>
<circle cx="1315.84" cy="1124.08" r="9.35"/>
<circle cx="1315.84" cy="1134.20" r="9.35"/>
<circle cx="1329.83" cy="1053.24" r="9.35"/>
<circle cx="1343.82" cy="1053.24" r="9.35"/>
<circle cx="1357.81" cy="1144.32" r="9.35"/>
<circle cx="1357.81" cy="1144.32" r="9.35"/>
<circle cx="1357.81" cy="1184.80" r="9.35"/>
<circle cx="1357.81" cy="1194.92" r="9.35"/>
<circle cx="1371.80" cy="1194.92" r="9.35"/>
<circle cx="1371.80" cy="1235.40" r="9.35"/>
<circle cx="1371.80" cy="1296.12" r="9.35"/>
<circle cx="1385.79" cy="1103.84" r="9.35"/>
<circle cx="1385.79" cy="1134.20" r="9.35"/>
<circle cx="1385.79" cy="1144.32" r="9.35"/>
<circle cx="1385.79" cy="1144.32" r="9.35"/>
<circle cx="1385.79" cy="1174.68" r="9.35"/>
<circle cx="1385.79" cy="1184.80" r="9.35"/>
<circle cx="1399.78" cy="1083.60" r="9.35"/>
<circle cx="1399.78" cy="1124.08" r="9.35"/>
<circle cx="1399.78" cy="1144.32" r="9.35"/>
<circle cx="1399.78" cy="1184.80" r="9.35"/>
<circle cx="1413.77" cy="1144.32" r="9.35"/>
<circle cx="1413.77" cy="1205.04" r="9.35"/>
<circle cx="1427.76" cy="1073.48" r="9.35"/>
<circle cx="1427.76" cy="1124.08" r="9.35"/>
<circle cx="1427.76" cy="1164.56" r="9.35"/>
<circle cx="1427.76" cy="1184.80" r="9.35"/>
<circle cx="1427.76" cy="1205.04" r="9.35"/>
<circle cx="1427.76" cy="1366.96" r="9.35"/>
<circle cx="1427.76" cy="1427.68" r="9.35"/>
<circle cx="1441.75" cy="941.92" r="9.35"/>
<circle cx="1441.75" cy="1073.48" r="9.35"/>
<circle cx="1441.75" cy="1124.08" r="9.35"/>
<circle cx="1441.75" cy="1154.44" r="9.35"/>
<circle cx="1441.75" cy="1194.92" r="9.35"/>
<circle cx="1441.75" cy="1194.92" r="9.35"/>
<circle cx="1441.75" cy="1225.28" r="9.35"/>
<circle cx="1455.74" cy="952.04" r="9.35"/>
<circle cx="1455.74" cy="952.04" r="9.35"/>
<circle cx="1455.74" cy="1063.36" r="9.35"/>
<circle cx="1455.74" cy="1063.36" r="9.35"/>
<circle cx="1455.74" cy="1073.48" r="9.35"/>
<circle cx="1455.74" cy="1083.60" r="9.35"/>
<circle cx="1455.74" cy="1144.32" r="9.35"/>
<circle cx="1455.74" cy="1184.80" r="9.35"/>
<circle cx="1455.74" cy="1184.80" r="9.35"/>
<circle cx="1455.74" cy="1245.52" r="9.35"/>
<circle cx="1469.73" cy="1093.72" r="9.35"/>
<circle cx="1469.73" cy="1144.32" r="9.35"/>
<circle cx="1469.73" cy="1174.68" r="9.35"/>
<circle cx="1469.73" cy="1174.68" r="9.35"/>
<circle cx="1469.73" cy="1235.40" r="9.35"/>
<circle cx="1469.73" cy="1245.52" r="9.35"/>
<circle cx="1469.73" cy="1245.52" r="9.35"/>
<circle cx="1483.72" cy="1022.88" r="9.35"/>
<circle cx="1483.72" cy="1043.12" r="9.35"/>
<circle cx="1483.72" cy="1083.60" r="9.35"/>
<circle cx="1483.72" cy="1134.20" r="9.35"/>
<circle cx="1483.72" cy="1144.32" r="9.35"/>
<circle cx="1483.72" cy="1184.80" r="9.35"/>
<circle cx="1483.72" cy="1215.16" r="9.35"/>
<circle cx="1483.72" cy="1235.40" r="9.35"/>
<circle cx="1483.72" cy="1296.12" r="9.35"/>
<circle cx="1483.72" cy="1296.12" r="9.35"/>
<circle cx="1497.71" cy="982.40" r="9.35"/>
<circle cx="1497.71" cy="1093.72" r="9.35"/>
<circle cx="1497.71" cy="1113.96" r="9.35"/>
<circle cx="1497.71" cy="1113.96" r="9.35"/>
<circle cx="1497.71" cy="1113.96" r="9.35"/>
<circle cx="1497.71" cy="1124.08" r="9.35"/>
<circle cx="1497.71" cy="1134.20" r="9.35"/>
<circle cx="1497.71" cy="1144.32" r="9.35"/>
<circle cx="1497.71" cy="1184.80" r="9.35"/>
<circle cx="1497.71" cy="1184.80" r="9.35"/>
<circle cx="1497.71" cy="1194.92" r="9.35"/>
<circle cx="1497.71" cy="1205.04" r="9.35"/>
<circle cx="1497.71" cy="1255.64" r="9.35"/>
<circle cx="1511.70" cy="850.84" r="9.35"/>
<circle cx="1511.70" cy="972.28" r="9.35"/>
<circle cx="1511.70" cy="1093.72" r="9.35"/>
<circle cx="1511.70" cy="1113.96" r="9.35"/>
<circle cx="1511.70" cy="1134.20" r="9.35"/>
<circle cx="1511.70" cy="1154.44" r="9.35"/>
<circle cx="1511.70" cy="1174.68" r="9.35"/>
<circle cx="1511.70" cy="1174.68" r="9.35"/>
<circle cx="1511.70" cy="1205.04" r="9.35"/>
<circle cx="1511.70" cy="1245.52" r="9.35"/>
<circle cx="1511.70" cy="1275.88" r="9.35"/>
<circle cx="1525.69" cy="891.32" r="9.35"/>
<circle cx="1525.69" cy="1033.00" r="9.35"/>
<circle cx="1525.69" cy="1083.60" r="9.35"/>
<circle cx="1525.69" cy="1103.84" r="9.35"/>
<circle cx="1525.69" cy="1113.96" r="9.35"/>
<circle cx="1525.69" cy="1124.08" r="9.35"/>
<circle cx="1525.69" cy="1174.68" r="9.35"/>
<circle cx="1525.69" cy="1194.92" r="9.35"/>
<circle cx="1525.69" cy="1194.92" r="9.35"/>
<circle cx="1525.69" cy="1205.04" r="9.35"/>
<circle cx="1525.69" cy="1215.16" r="9.35"/>
<circle cx="1525.69" cy="1286.00" r="9.35"/>
<circle cx="1539.68" cy="941.92" r="9.35"/>
<circle cx="1539.68" cy="952.04" r="9.35"/>
<circle cx="1539.68" cy="972.28" r="9.35"/>
<circle cx="1539.68" cy="1002.64" r="9.35"/>
<circle cx="1539.68" cy="1022.88" r="9.35"/>
<circle cx="1539.68" cy="1174.68" r="9.35"/>
<circle cx="1539.68" cy="1184.80" r="9.35"/>
<circle cx="1539.68" cy="1194.92" r="9.35"/>
<circle cx="1539.68" cy="1296.12" r="9.35"/>
<circle cx="1553.67" cy="1002.64" r="9.35"/>
<circle cx="1553.67" cy="1012.76" r="9.35"/>
<circle cx="1553.67" cy="1033.00" r="9.35"/>
<circle cx="1553.67" cy="1154.44" r="9.35"/>
<circle cx="1553.67" cy="1174.68" r="9.35"/>
<circle cx="1553.67" cy="1174.68" r="9.35"/>
<circle cx="1553.67" cy="1194.92" r="9.35"/>
<circle cx="1553.67" cy="1194.92" r="9.35"/>
<circle cx="1553.67" cy="1225.28" r="9.35"/>
<circle cx="1567.66" cy="860.96" r="9.35"/>
<circle cx="1567.66" cy="921.68" r="9.35"/>
<circle cx="1567.66" cy="982.40" r="9.35"/>
<circle cx="1567.66" cy="1012.76" r="9.35"/>
<circle cx="1567.66" cy="1012.76" r="9.35"/>
<circle cx="1567.66" cy="1063.36" r="9.35"/>
<circle cx="1567.66" cy="1083.60" r="9.35"/>
<circle cx="1567.66" cy="1083.60" r="9.35"/>
<circle cx="1567.66" cy="1103.84" r="9.35"/>
<circle cx="1567.66" cy="1103.84" r="9.35"/>
<circle cx="1567.66" cy="1113.96" r="9.35"/>
<circle cx="1567.66" cy="1134.20" r="9.35"/>
<circle cx="1567.66" cy="1154.44" r="9.35"/>
<circle cx="1567.66" cy="1154.44" r="9.35"/>
<circle cx="1567.66" cy="1205.04" r="9.35"/>
<circle cx="1581.65" cy="911.56" r="9.35"/>
<circle cx="1581.65" cy="1053.24" r="9.35"/>
<circle cx="1581.65" cy="1083.60" r="9.35"/>
<circle cx="1581.65" cy="1134.20" r="9.35"/>
<circle cx="1581.65" cy="1154.44" r="9.35"/>
<circle cx="1581.65" cy="1174.68" r="9.35"/>
<circle cx="1581.65" cy="1215.16" r="9.35"/>
<circle cx="1581.65" cy="1215.16" r="9.35"/>
<circle cx="1581.65" cy="1215.16" r="9.35"/>
<circle cx="1581.65" cy="1275.88" r="9.35"/>
<circle cx="1581.65" cy="1306.24" r="9.35"/>
<circle cx="1581.65" cy="1346.72" r="9.35"/>
<circle cx="1595.64" cy="952.04" r="9.35"/>
<circle cx="1595.64" cy="992.52" r="9.35"/>
<circle cx="1595.64" cy="992.52" r="9.35"/>
<circle cx="1595.64" cy="1144.32" r="9.35"/>
<circle cx="1595.64" cy="1164.56" r="9.35"/>
<circle cx="1595.64" cy="1184.80" r="9.35"/>
<circle cx="1595.64" cy="1184.80" r="9.35"/>
<circle cx="1595.64" cy="1194.92" r="9.35"/>
<circle cx="1595.64" cy="1194.92" r="9.35"/>
<circle cx="1595.64" cy="1194.92" r="9.35"/>
<circle cx="1595.64" cy="1194.92" r="9.35"/>
<circle cx="1595.64" cy="1205.04" r="9.35"/>
<circle cx="1595.64" cy="1205.04" r="9.35"/>
<circle cx="1595.64" cy="1225.28" r="9.35"/>
<circle cx="1595.64" cy="1235.40" r="9.35"/>
<circle cx="1595.64" cy="1316.36" r="9.35"/>
<circle cx="1609.63" cy="1053.24" r="9.35"/>
<circle cx="1609.63" cy="1083.60" r="9.35"/>
<circle cx="1609.63" cy="1113.96" r="9.35"/>
<circle cx="1609.63" cy="1124.08" r="9.35"/>
<circle cx="1609.63" cy="1164.56" r="9.35"/>
<circle cx="1609.63" cy="1174.68" r="9.35"/>
<circle cx="1609.63" cy="1174.68" r="9.35"/>
<circle cx="1609.63" cy="1184.80" r="9.35"/>
<circle cx="1609.63" cy="1184.80" r="9.35"/>
<circle cx="1609.63" cy="1194.92" r="9.35"/>
<circle cx="1609.63" cy="1194.92" r="9.35"/>
<circle cx="1623.62" cy="952.04" r="9.35"/>
<circle cx="1623.62" cy="1134.20" r="9.35"/>
<circle cx="1623.62" cy="1174.68" r="9.35"/>
<circle cx="1623.62" cy="1174.68" r="9.35"/>
<circle cx="1623.62" cy="1184.80" r="9.35"/>
<circle cx="1623.62" cy="1184.80" r="9.35"/>
<circle cx="1623.62" cy="1184.80" r="9.35"/>
<circle cx="1623.62" cy="1194.92" r="9.35"/>
<circle cx="1623.62" cy="1215.16" r="9.35"/>
<circle cx="1623.62" cy="1215.16" r="9.35"/>
<circle cx="1623.62" cy="1255.64" r="9.35"/>
<circle cx="1637.61" cy="972.28" r="9.35"/>
<circle cx="1637.61" cy="1073.48" r="9.35"/>
<circle cx="1637.61" cy="1073.48" r="9.35"/>
<circle cx="1637.61" cy="1083.60" r="9.35"/>
<circle cx="1637.61" cy="1083.60" r="9.35"/>
<circle cx="1637.61" cy="1093.72" r="9.35"/>
<circle cx="1637.61" cy="1093.72" r="9.35"/>
<circle cx="1637.61" cy="1103.84" r="9.35"/>
<circle cx="1637.61" cy="1103.84" r="9.35"/>
<circle cx="1637.61" cy="1124.08" r="9.35"/>
<circle cx="1637.61" cy="1144.32" r="9.35"/>
<circle cx="1637.61" cy="1154.44" r="9.35"/>
<circle cx="1637.61" cy="1174.68" r="9.35"/>
<circle cx="1637.61" cy="1194.92" r="9.35"/>
<circle cx="1637.61" cy="1225.28" r="9.35"/>
<circle cx="1637.61" cy="1286.00" r="9.35"/>
<circle cx="1651.60" cy="830.60" r="9.35"/>
<circle cx="1651.60" cy="891.32" r="9.35"/>
<circle cx="1651.60" cy="962.16" r="9.35"/>
<circle cx="1651.60" cy="972.28" r="9.35"/>
<circle cx="1651.60" cy="1053.24" r="9.35"/>
<circle cx="1651.60" cy="1083.60" r="9.35"/>
<circle cx="1651.60" cy="1113.96" r="9.35"/>
<circle cx="1651.60" cy="1134.20" r="9.35"/>
<circle cx="1651.60" cy="1144.32" r="9.35"/>
<circle cx="1651.60" cy="1144.32" r="9.35"/>
<circle cx="1651.60" cy="1144.32" r="9.35"/>
<circle cx="1651.60" cy="1154.44" r="9.35"/>
<circle cx="1651.60" cy="1164.56" r="9.35"/>
<circle cx="1651.60" cy="1184.80" r="9.35"/>
<circle cx="1651.60" cy="1184.80" r="9.35"/>
<circle cx="1651.60" cy="1194.92" r="9.35"/>
<circle cx="1651.60" cy="1275.88" r="9.35"/>
<circle cx="1665.59" cy="1043.12" r="9.35"/>
<circle cx="1665.59" cy="1073.48" r="9.35"/>
<circle cx="1665.59" cy="1124.08" r="9.35"/>
<circle cx="1665.59" cy="1134.20" r="9.35"/>
<circle cx="1665.59" cy="1134.20" r="9.35"/>
<circle cx="1665.59" cy="1144.32" r="9.35"/>
<circle cx="1665.59" cy="1154.44" r="9.35"/>
<circle cx="1665.59" cy="1184.80" r="9.35"/>
<circle cx="1665.59" cy="1184.80" r="9.35"/>
<circle cx="1665.59" cy="1225.28" r="9.35"/>
<circle cx="1665.59" cy="1245.52" r="9.35"/>
<circle cx="1665.59" cy="1346.72" r="9.35"/>
<circle cx="1679.58" cy="941.92" r="9.35"/>
<circle cx="1679.58" cy="992.52" r="9.35"/>
<circle cx="1679.58" cy="1022.88" r="9.35"/>
<circle cx="1679.58" cy="1033.00" r="9.35"/>
<circle cx="1679.58" cy="1043.12" r="9.35"/>
<circle cx="1679.58" cy="1093.72" r="9.35"/>
<circle cx="1679.58" cy="1093.72" r="9.35"/>
<circle cx="1679.58" cy="1134.20" r="9.35"/>
<circle cx="1679.58" cy="1184.80" r="9.35"/>
<circle cx="1693.57" cy="891.32" r="9.35"/>
<circle cx="1693.57" cy="962.16" r="9.35"/>
<circle cx="1693.57" cy="982.40" r="9.35"/>
<circle cx="1693.57" cy="1033.00" r="9.35"/>
<circle cx="1693.57" cy="1063.36" r="9.35"/>
<circle cx="1693.57" cy="1164.56" r="9.35"/>
<circle cx="1693.57" cy="1184.80" r="9.35"/>
<circle cx="1693.57" cy="1184.80" r="9.35"/>
<circle cx="1693.57" cy="1225.28" r="9.35"/>
<circle cx="1693.57" cy="1275.88" r="9.35"/>
<circle cx="1707.56" cy="962.16" r="9.35"/>
<circle cx="1707.56" cy="1012.76" r="9.35"/>
<circle cx="1707.56" cy="1022.88" r="9.35"/>
<circle cx="1707.56" cy="1124.08" r="9.35"/>
<circle cx="1707.56" cy="1124.08" r="9.35"/>
<circle cx="1707.56" cy="1144.32" r="9.35"/>
<circle cx="1707.56" cy="1154.44" r="9.35"/>
<circle cx="1707.56" cy="1164.56" r="9.35"/>
<circle cx="1707.56" cy="1184.80" r="9.35"/>
<circle cx="1707.56" cy="1184.80" r="9.35"/>
<circle cx="1721.55" cy="891.32" r="9.35"/>
<circle cx="1721.55" cy="911.56" r="9.35"/>
<circle cx="1721.55" cy="1063.36" r="9.35"/>
<circle cx="1721.55" cy="1083.60" r="9.35"/>
<circle cx="1721.55" cy="1113.96" r="9.35"/>
<circle cx="1721.55" cy="1113.96" r="9.35"/>
<circle cx="1721.55" cy="1134.20" r="9.35"/>
<circle cx="1721.55" cy="1164.56" r="9.35"/>
<circle cx="1721.55" cy="1184.80" r="9.35"/>
<circle cx="1721.55" cy="1205.04" r="9.35"/>
<circle cx="1735.54" cy="931.80" r="9.35"/>
<circle cx="1735.54" cy="1022.88" r="9.35"/>
<circle cx="1735.54" cy="1033.00" r="9.35"/>
<circle cx="1735.54" cy="1043.12" r="9.35"/>
<circle cx="1735.54" cy="1053.24" r="9.35"/>
<circle cx="1735.54" cy="1063.36" r="9.35"/>
<circle cx="1735.54" cy="1073.48" r="9.35"/>
<circle cx="1735.54" cy="1083.60" r="9.35"/>
<circle cx="1735.54" cy="1103.84" r="9.35"/>
<circle cx="1735.54" cy="1124.08" r="9.35"/>
<circle cx="1735.54" cy="1144.32" r="9.35"/>
<circle cx="1735.54" cy="1154.44" r="9.35"/>
<circle cx="1735.54" cy="1205.04" r="9.35"/>
<circle cx="1735.54" cy="1225.28" r="9.35"/>
</g>
<path d="M1064.02,1176.37 L1078.01,1175.02 L1092.00,1173.66 L1105.99,1172.30 L1119.98,1170.93 L1133.97,1169.56 L1147.96,1168.19 L1161.95,1166.82 L1175.94,1165.43 L1189.93,1164.05 L1203.92,1162.66 L1217.91,1161.26 L1231.90,1159.85 L1245.89,1158.44 L1259.88,1157.02 L1273.87,1155.58 L1287.86,1154.14 L1301.85,1152.69 L1315.84,1151.22 L1329.83,1149.73 L1343.82,1148.23 L1357.81,1146.71 L1371.80,1145.17 L1385.79,1143.60 L1399.78,1142.00 L1413.77,1140.37 L1427.76,1138.71 L1441.75,1137.00 L1455.74,1135.25 L1469.73,1133.45 L1483.72,1131.59 L1497.71,1129.66 L1511.70,1127.68 L1525.69,1125.62 L1539.68,1123.49 L1553.67,1121.28 L1567.66,1119.00 L1581.65,1116.64 L1595.64,1114.21 L1609.63,1111.72 L1623.62,1109.16 L1637.61,1106.55 L1651.60,1103.89 L1665.59,1101.18 L1679.58,1098.43 L1693.57,1095.65 L1707.56,1092.83 L1721.55,1089.98 L1735.54,1087.11 L1735.54,1119.77 L1721.55,1121.32 L1707.56,1122.88 L1693.57,1124.48 L1679.58,1126.11 L1665.59,1127.77 L1651.60,1129.48 L1637.61,1131.23 L1623.62,1133.04 L1609.63,1134.90 L1595.64,1136.82 L1581.65,1138.81 L1567.66,1140.86 L1553.67,1143.00 L1539.68,1145.20 L1525.69,1147.49 L1511.70,1149.84 L1497.71,1152.27 L1483.72,1154.76 L1469.73,1157.32 L1455.74,1159.93 L1441.75,1162.59 L1427.76,1165.30 L1413.77,1168.05 L1399.78,1170.84 L1385.79,1173.65 L1371.80,1176.50 L1357.81,1179.37 L1343.82,1182.27 L1329.83,1185.18 L1315.84,1188.11 L1301.85,1191.06 L1287.86,1194.02 L1273.87,1196.99 L1259.88,1199.97 L1245.89,1202.96 L1231.90,1205.96 L1217.91,1208.97 L1203.92,1211.99 L1189.93,1215.01 L1175.94,1218.04 L1161.95,1221.07 L1147.96,1224.11 L1133.97,1227.16 L1119.98,1230.20 L1105.99,1233.25 L1092.00,1236.31 L1078.01,1239.36 L1064.02,1242.42 Z" fill="#999999" fill-opacity="0.4" stroke="none"/>
<line x1="1064.00" y1="1209.40" x2="1735.80" y2="1103.40" stroke="#DE2B0B" stroke-width="7.3" />
<text x="1171.40" y="841.60" font-size="31.9" fill="#000" text-anchor="start" font-weight="normal" transform="translate(1171.40 841.60) scale(1 1.015) translate(-1171.40 -841.60)">r = 0.25, p &lt; .0001</text>
<line x1="1019.80" y1="982.20" x2="1029.10" y2="982.20" stroke="#333333" stroke-width="3.8" />
<text x="1011.60" y="994.00" font-size="33.1" fill="#4D4D4D" text-anchor="end" font-weight="normal" transform="translate(1011.60 994.00) scale(1 1.02) translate(-1011.60 -994.00)">20</text>
<line x1="1019.80" y1="1184.80" x2="1029.10" y2="1184.80" stroke="#333333" stroke-width="3.8" />
<text x="1011.60" y="1196.60" font-size="33.1" fill="#4D4D4D" text-anchor="end" font-weight="normal" transform="translate(1011.60 1196.60) scale(1 1.02) translate(-1011.60 -1196.60)">0</text>
<line x1="1019.80" y1="1387.20" x2="1029.10" y2="1387.20" stroke="#333333" stroke-width="3.8" />
<text x="1011.60" y="1399.00" font-size="33.1" fill="#4D4D4D" text-anchor="end" font-weight="normal" transform="translate(1011.60 1399.00) scale(1 1.02) translate(-1011.60 -1399.00)">-20</text>
<line x1="1092.00" y1="1458.90" x2="1092.00" y2="1468.20" stroke="#333333" stroke-width="3.8" />
<text x="1091.20" y="1500.20" font-size="33.1" fill="#4D4D4D" text-anchor="middle" font-weight="normal" transform="translate(1091.20 1500.20) scale(1 1.02) translate(-1091.20 -1500.20)">10</text>
<line x1="1231.90" y1="1458.90" x2="1231.90" y2="1468.20" stroke="#333333" stroke-width="3.8" />
<text x="1231.10" y="1500.20" font-size="33.1" fill="#4D4D4D" text-anchor="middle" font-weight="normal" transform="translate(1231.10 1500.20) scale(1 1.02) translate(-1231.10 -1500.20)">20</text>
<line x1="1371.80" y1="1458.90" x2="1371.80" y2="1468.20" stroke="#333333" stroke-width="3.8" />
<text x="1371.00" y="1500.20" font-size="33.1" fill="#4D4D4D" text-anchor="middle" font-weight="normal" transform="translate(1371.00 1500.20) scale(1 1.02) translate(-1371.00 -1500.20)">30</text>
<line x1="1511.70" y1="1458.90" x2="1511.70" y2="1468.20" stroke="#333333" stroke-width="3.8" />
<text x="1510.90" y="1500.20" font-size="33.1" fill="#4D4D4D" text-anchor="middle" font-weight="normal" transform="translate(1510.90 1500.20) scale(1 1.02) translate(-1510.90 -1500.20)">40</text>
<line x1="1651.60" y1="1458.90" x2="1651.60" y2="1468.20" stroke="#333333" stroke-width="3.8" />
<text x="1650.80" y="1500.20" font-size="33.1" fill="#4D4D4D" text-anchor="middle" font-weight="normal" transform="translate(1650.80 1500.20) scale(1 1.02) translate(-1650.80 -1500.20)">50</text>
<line x1="1030.60" y1="800.00" x2="1030.60" y2="1459.40" stroke="#000000" stroke-width="4.0" />
<line x1="1028.60" y1="1457.40" x2="1768.60" y2="1457.40" stroke="#000000" stroke-width="4.0" />
<text x="1399.60" y="1548.00" font-size="41.25" fill="#000" text-anchor="middle" font-weight="normal" transform="translate(1399.60 1548.00) scale(1 1.045) translate(-1399.60 -1548.00)">Communitas</text>
<text x="936.7" y="1129.6" font-size="41.25" fill="#000" text-anchor="middle"  transform="translate(936.70 1129.60) rotate(-90) scale(1 1.045) translate(-936.70 -1129.60)">ΔSCS<tspan font-size="28.7" dy="8">BL-4W</tspan></text>
<text x="912.40" y="796.70" font-size="39.6" fill="#000" text-anchor="start" font-weight="bold" transform="translate(912.40 796.70) scale(1 1.045) translate(-912.40 -796.70)">D</text>
</g>
</svg>
</body>
</html>
